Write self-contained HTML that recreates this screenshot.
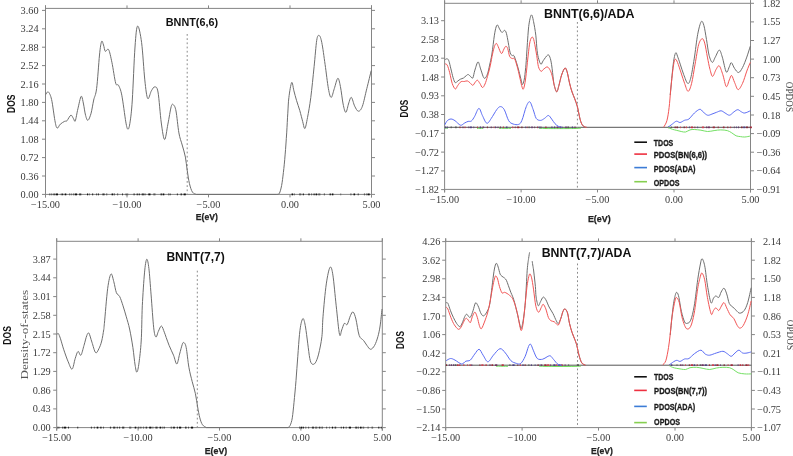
<!DOCTYPE html><html><head><meta charset="utf-8"><style>html,body{margin:0;padding:0;background:#fff;}svg{display:block;will-change:transform;}text{font-family:"Liberation Sans",sans-serif;}</style></head><body>
<svg width="793" height="456" viewBox="0 0 793 456">
<rect width="793" height="456" fill="#fff"/>
<line x1="45.5" y1="5.4" x2="45.5" y2="197.4" stroke="#858585" stroke-width="1"/>
<line x1="371.5" y1="5.4" x2="371.5" y2="197.4" stroke="#858585" stroke-width="1"/>
<line x1="45.5" y1="8.4" x2="371.5" y2="8.4" stroke="#858585" stroke-width="1"/>
<line x1="45.5" y1="194.4" x2="371.5" y2="194.4" stroke="#858585" stroke-width="1"/>
<line x1="45.5" y1="194.4" x2="45.5" y2="197.4" stroke="#858585" stroke-width="1"/>
<line x1="45.5" y1="8.4" x2="45.5" y2="5.4" stroke="#858585" stroke-width="1"/>
<text x="45.5" y="208" font-size="10.3" text-anchor="middle" font-weight="normal" fill="#3a3a3a" style="font-family:'Liberation Serif', serif">−15.00</text>
<line x1="127" y1="194.4" x2="127" y2="197.4" stroke="#858585" stroke-width="1"/>
<line x1="127" y1="8.4" x2="127" y2="5.4" stroke="#858585" stroke-width="1"/>
<text x="127" y="208" font-size="10.3" text-anchor="middle" font-weight="normal" fill="#3a3a3a" style="font-family:'Liberation Serif', serif">−10.00</text>
<line x1="208.5" y1="194.4" x2="208.5" y2="197.4" stroke="#858585" stroke-width="1"/>
<line x1="208.5" y1="8.4" x2="208.5" y2="5.4" stroke="#858585" stroke-width="1"/>
<text x="208.5" y="208" font-size="10.3" text-anchor="middle" font-weight="normal" fill="#3a3a3a" style="font-family:'Liberation Serif', serif">−5.00</text>
<line x1="290" y1="194.4" x2="290" y2="197.4" stroke="#858585" stroke-width="1"/>
<line x1="290" y1="8.4" x2="290" y2="5.4" stroke="#858585" stroke-width="1"/>
<text x="290" y="208" font-size="10.3" text-anchor="middle" font-weight="normal" fill="#3a3a3a" style="font-family:'Liberation Serif', serif">0.00</text>
<line x1="371.5" y1="194.4" x2="371.5" y2="197.4" stroke="#858585" stroke-width="1"/>
<line x1="371.5" y1="8.4" x2="371.5" y2="5.4" stroke="#858585" stroke-width="1"/>
<text x="371.5" y="208" font-size="10.3" text-anchor="middle" font-weight="normal" fill="#3a3a3a" style="font-family:'Liberation Serif', serif">5.00</text>
<line x1="42" y1="194.4" x2="45.5" y2="194.4" stroke="#858585" stroke-width="1"/>
<text x="38.6" y="197.9" font-size="10.3" text-anchor="end" font-weight="normal" fill="#3a3a3a" style="font-family:'Liberation Serif', serif">0.00</text>
<line x1="42" y1="176" x2="45.5" y2="176" stroke="#858585" stroke-width="1"/>
<text x="38.6" y="179.5" font-size="10.3" text-anchor="end" font-weight="normal" fill="#3a3a3a" style="font-family:'Liberation Serif', serif">0.36</text>
<line x1="42" y1="157.6" x2="45.5" y2="157.6" stroke="#858585" stroke-width="1"/>
<text x="38.6" y="161.1" font-size="10.3" text-anchor="end" font-weight="normal" fill="#3a3a3a" style="font-family:'Liberation Serif', serif">0.72</text>
<line x1="42" y1="139.2" x2="45.5" y2="139.2" stroke="#858585" stroke-width="1"/>
<text x="38.6" y="142.7" font-size="10.3" text-anchor="end" font-weight="normal" fill="#3a3a3a" style="font-family:'Liberation Serif', serif">1.08</text>
<line x1="42" y1="120.8" x2="45.5" y2="120.8" stroke="#858585" stroke-width="1"/>
<text x="38.6" y="124.3" font-size="10.3" text-anchor="end" font-weight="normal" fill="#3a3a3a" style="font-family:'Liberation Serif', serif">1.44</text>
<line x1="42" y1="102.4" x2="45.5" y2="102.4" stroke="#858585" stroke-width="1"/>
<text x="38.6" y="105.9" font-size="10.3" text-anchor="end" font-weight="normal" fill="#3a3a3a" style="font-family:'Liberation Serif', serif">1.80</text>
<line x1="42" y1="84" x2="45.5" y2="84" stroke="#858585" stroke-width="1"/>
<text x="38.6" y="87.5" font-size="10.3" text-anchor="end" font-weight="normal" fill="#3a3a3a" style="font-family:'Liberation Serif', serif">2.16</text>
<line x1="42" y1="65.6" x2="45.5" y2="65.6" stroke="#858585" stroke-width="1"/>
<text x="38.6" y="69.1" font-size="10.3" text-anchor="end" font-weight="normal" fill="#3a3a3a" style="font-family:'Liberation Serif', serif">2.52</text>
<line x1="42" y1="47.2" x2="45.5" y2="47.2" stroke="#858585" stroke-width="1"/>
<text x="38.6" y="50.7" font-size="10.3" text-anchor="end" font-weight="normal" fill="#3a3a3a" style="font-family:'Liberation Serif', serif">2.88</text>
<line x1="42" y1="28.8" x2="45.5" y2="28.8" stroke="#858585" stroke-width="1"/>
<text x="38.6" y="32.3" font-size="10.3" text-anchor="end" font-weight="normal" fill="#3a3a3a" style="font-family:'Liberation Serif', serif">3.24</text>
<line x1="42" y1="10.4" x2="45.5" y2="10.4" stroke="#858585" stroke-width="1"/>
<text x="38.6" y="13.9" font-size="10.3" text-anchor="end" font-weight="normal" fill="#3a3a3a" style="font-family:'Liberation Serif', serif">3.60</text>
<line x1="371.5" y1="194.4" x2="375" y2="194.4" stroke="#858585" stroke-width="1"/>
<line x1="371.5" y1="176" x2="375" y2="176" stroke="#858585" stroke-width="1"/>
<line x1="371.5" y1="157.6" x2="375" y2="157.6" stroke="#858585" stroke-width="1"/>
<line x1="371.5" y1="139.2" x2="375" y2="139.2" stroke="#858585" stroke-width="1"/>
<line x1="371.5" y1="120.8" x2="375" y2="120.8" stroke="#858585" stroke-width="1"/>
<line x1="371.5" y1="102.4" x2="375" y2="102.4" stroke="#858585" stroke-width="1"/>
<line x1="371.5" y1="84" x2="375" y2="84" stroke="#858585" stroke-width="1"/>
<line x1="371.5" y1="65.6" x2="375" y2="65.6" stroke="#858585" stroke-width="1"/>
<line x1="371.5" y1="47.2" x2="375" y2="47.2" stroke="#858585" stroke-width="1"/>
<line x1="371.5" y1="28.8" x2="375" y2="28.8" stroke="#858585" stroke-width="1"/>
<line x1="371.5" y1="10.4" x2="375" y2="10.4" stroke="#858585" stroke-width="1"/>
<rect x="49.2" y="193.5" width="0.8" height="1.8" fill="#555"/>
<rect x="50.6" y="193.5" width="1.2" height="1.8" fill="#555"/>
<rect x="52.8" y="193.5" width="0.8" height="1.8" fill="#333"/>
<rect x="54.2" y="193.5" width="1.0" height="1.8" fill="#333"/>
<rect x="55.8" y="193.5" width="2.2" height="1.8" fill="#111"/>
<rect x="60.8" y="193.5" width="0.8" height="1.8" fill="#333"/>
<rect x="62.2" y="193.5" width="1.0" height="1.8" fill="#111"/>
<rect x="64.7" y="193.5" width="1.6" height="1.8" fill="#111"/>
<rect x="69.1" y="193.5" width="1.2" height="1.8" fill="#555"/>
<rect x="71.3" y="193.5" width="0.8" height="1.8" fill="#555"/>
<rect x="73.1" y="193.5" width="1.2" height="1.8" fill="#555"/>
<rect x="74.9" y="193.5" width="2.2" height="1.8" fill="#111"/>
<rect x="79.1" y="193.5" width="2.2" height="1.8" fill="#333"/>
<rect x="87.0" y="193.5" width="1.2" height="1.8" fill="#111"/>
<rect x="89.2" y="193.5" width="0.8" height="1.8" fill="#555"/>
<rect x="92.0" y="193.5" width="1.2" height="1.8" fill="#333"/>
<rect x="96.0" y="193.5" width="0.8" height="1.8" fill="#333"/>
<rect x="97.8" y="193.5" width="1.2" height="1.8" fill="#333"/>
<rect x="102.4" y="193.5" width="2.2" height="1.8" fill="#333"/>
<rect x="106.1" y="193.5" width="1.2" height="1.8" fill="#555"/>
<rect x="111.6" y="193.5" width="1.6" height="1.8" fill="#111"/>
<rect x="113.8" y="193.5" width="1.2" height="1.8" fill="#555"/>
<rect x="117.0" y="193.5" width="1.2" height="1.8" fill="#555"/>
<rect x="122.0" y="193.5" width="1.0" height="1.8" fill="#333"/>
<rect x="125.6" y="193.5" width="1.0" height="1.8" fill="#333"/>
<rect x="127.2" y="193.5" width="1.0" height="1.8" fill="#555"/>
<rect x="133.5" y="193.5" width="1.2" height="1.8" fill="#333"/>
<rect x="136.7" y="193.5" width="1.0" height="1.8" fill="#111"/>
<rect x="138.7" y="193.5" width="1.0" height="1.8" fill="#111"/>
<rect x="141.7" y="193.5" width="2.2" height="1.8" fill="#333"/>
<rect x="144.5" y="193.5" width="1.0" height="1.8" fill="#333"/>
<rect x="148.3" y="193.5" width="2.2" height="1.8" fill="#111"/>
<rect x="153.3" y="193.5" width="2.2" height="1.8" fill="#555"/>
<rect x="160.5" y="193.5" width="1.6" height="1.8" fill="#333"/>
<rect x="162.7" y="193.5" width="1.6" height="1.8" fill="#111"/>
<rect x="168.1" y="193.5" width="1.0" height="1.8" fill="#555"/>
<rect x="169.7" y="193.5" width="0.8" height="1.8" fill="#111"/>
<rect x="176.9" y="193.5" width="0.8" height="1.8" fill="#111"/>
<rect x="180.5" y="193.5" width="1.6" height="1.8" fill="#333"/>
<rect x="183.6" y="193.5" width="2.2" height="1.8" fill="#111"/>
<rect x="291.6" y="193.5" width="1.6" height="1.8" fill="#111"/>
<rect x="294.2" y="193.5" width="0.8" height="1.8" fill="#555"/>
<rect x="299.1" y="193.5" width="2.2" height="1.8" fill="#555"/>
<rect x="302.8" y="193.5" width="1.0" height="1.8" fill="#111"/>
<rect x="308.4" y="193.5" width="1.2" height="1.8" fill="#111"/>
<rect x="311.1" y="193.5" width="1.0" height="1.8" fill="#555"/>
<rect x="313.6" y="193.5" width="1.0" height="1.8" fill="#111"/>
<rect x="315.6" y="193.5" width="1.6" height="1.8" fill="#111"/>
<rect x="318.2" y="193.5" width="2.2" height="1.8" fill="#555"/>
<rect x="323.8" y="193.5" width="1.2" height="1.8" fill="#555"/>
<rect x="329.6" y="193.5" width="1.2" height="1.8" fill="#111"/>
<rect x="331.8" y="193.5" width="1.6" height="1.8" fill="#111"/>
<rect x="340.4" y="193.5" width="0.8" height="1.8" fill="#555"/>
<rect x="350.3" y="193.5" width="1.2" height="1.8" fill="#555"/>
<rect x="353.5" y="193.5" width="1.6" height="1.8" fill="#111"/>
<rect x="357.7" y="193.5" width="1.0" height="1.8" fill="#333"/>
<rect x="363.9" y="193.5" width="1.2" height="1.8" fill="#555"/>
<rect x="366.1" y="193.5" width="0.8" height="1.8" fill="#555"/>
<rect x="367.5" y="193.5" width="2.2" height="1.8" fill="#111"/>
<line x1="187.2" y1="34" x2="187.2" y2="194.4" stroke="#8a8a8a" stroke-width="1" stroke-dasharray="1.8 2.4"/>
<path d="M45.8 94.5 C46.2 94.1 47.3 91.1 48.3 91.9 C49.3 92.8 50.5 94.8 51.6 99.6 C52.7 104.4 54 115.8 54.9 120.5 C55.8 125.2 56.2 127.5 57.1 128.1 C58 128.7 59.1 125.2 60.4 124.1 C61.7 123 63.6 121.8 64.7 121.3 C65.8 120.8 65.9 121.8 66.9 120.8 C67.9 119.8 69.8 115.5 70.9 115.2 C72 114.9 72.8 117.8 73.5 118.7 C74.2 119.6 74.6 122.5 75.3 120.8 C76 119.1 76.9 112.9 77.9 108.8 C78.9 104.7 80.3 97.1 81.2 96.3 C82.1 95.5 82.8 100.8 83.5 104 C84.2 107.2 84.8 112.7 85.6 115.4 C86.3 118.1 87.1 120.7 88 120.3 C88.9 119.9 90.1 116.6 91.1 113.2 C92 109.8 92.8 104.1 93.7 100 C94.6 95.9 95.6 96.1 96.6 88.6 C97.6 81.1 98.7 62.9 99.5 55 C100.3 47.1 100.9 43.2 101.6 41.5 C102.3 39.8 102.9 43.4 103.5 45 C104.1 46.6 104.5 50.5 105.3 51.3 C106.1 52.1 107.5 47.8 108.6 49.6 C109.7 51.4 110.7 56.7 111.9 62.3 C113.1 67.9 114.6 79.4 115.7 83.2 C116.8 87 117.5 83.3 118.5 85.3 C119.5 87.3 120.6 89.1 121.8 95.2 C123 101.3 124.8 116.2 125.8 121.9 C126.8 127.6 127.3 129.2 128 129.2 C128.7 129.2 129.4 126.8 130.1 121.9 C130.8 117 131.5 112.5 132.3 100 C133.1 87.5 134.1 59.3 135 47 C135.9 34.7 136.5 26.8 137.6 26.1 C138.7 25.4 140.4 33.6 141.6 42.6 C142.8 51.6 143.8 70.6 144.8 79.9 C145.8 89.2 146.6 96.7 147.7 98.5 C148.8 100.3 150.2 92.7 151.4 90.8 C152.6 88.9 153.6 86.7 154.7 86.9 C155.8 87.1 156.9 86 158 92 C159.1 98 160.2 115.1 161.3 123 C162.4 130.9 163.5 139.3 164.6 139.5 C165.7 139.7 166.8 129.6 167.9 124.1 C169 118.6 170.3 109.8 171.2 106.6 C172.1 103.4 172.6 104.1 173.4 104.8 C174.2 105.5 175.1 106.3 176 111 C176.9 115.7 177.9 127.2 178.9 132.9 C179.9 138.6 181.1 141 182.2 145 C183.3 149 184.6 152.9 185.4 157.1 C186.2 161.3 186.5 165.8 187.2 170.2 C187.9 174.6 188.5 179.7 189.4 183.4 C190.3 187.1 191.3 190.4 192.5 192.2 C193.7 194 195.8 194 196.4 194.4" fill="none" stroke="#6e6e6e" stroke-width="1" stroke-linejoin="round"/>
<line x1="196.4" y1="194.4" x2="276.8" y2="194.4" stroke="#6e6e6e" stroke-width="1"/>
<path d="M276.8 194.4 C277.2 194.2 278.6 194.8 279.4 193.3 C280.2 191.8 280.9 189.1 281.6 185.6 C282.3 182.1 282.8 177.5 283.4 172.4 C284 167.3 284.6 161.5 285.1 154.9 C285.7 148.3 286.2 139.8 286.7 132.9 C287.1 126 287.4 119.1 287.8 113.2 C288.2 107.3 288.2 102.5 288.9 97.4 C289.5 92.3 290.9 83.6 291.7 82.5 C292.5 81.4 293.1 87.8 293.9 90.8 C294.7 93.8 295.6 97.4 296.6 100.7 C297.6 104 298.8 107.1 299.8 110.6 C300.8 114.1 301.9 118.6 302.7 121.6 C303.5 124.6 304.1 129.2 304.9 128.5 C305.7 127.8 306.5 122.8 307.5 117.6 C308.5 112.4 309.7 105.9 310.8 97.4 C311.9 88.9 313.1 76.2 314.1 66.7 C315.1 57.2 315.9 45.6 316.7 40.4 C317.5 35.2 318.3 35.1 319.2 35.5 C320.1 35.9 320.8 37.8 321.8 42.6 C322.8 47.4 324 56.8 325.1 64.5 C326.2 72.2 327.4 83.1 328.4 88.6 C329.4 94.1 330.2 97.4 331.2 97.4 C332.2 97.4 333.2 91.8 334.3 88.6 C335.4 85.4 336.8 78.7 337.8 78.3 C338.8 77.9 339.5 82.1 340.4 86.4 C341.3 90.7 342.2 99.7 343.1 104 C344 108.3 344.9 112.5 345.9 112.3 C346.8 112.1 347.9 105.4 348.8 102.9 C349.7 100.4 350.4 96.9 351.4 97.4 C352.4 98 353.5 103.9 354.7 106.2 C355.9 108.5 357.1 111.2 358.4 111.2 C359.7 111.2 361 110 362.4 106.2 C363.8 102.4 365.3 94.5 366.8 88.6 C368.3 82.7 370.5 73.6 371.2 70.6" fill="none" stroke="#6e6e6e" stroke-width="1" stroke-linejoin="round"/>
<text x="165.8" y="25.8" font-size="10.8" text-anchor="start" font-weight="bold" fill="#111" textLength="52.3" lengthAdjust="spacingAndGlyphs">BNNT(6,6)</text>
<text x="195.8" y="219.6" font-size="9" text-anchor="start" font-weight="bold" fill="#222" textLength="22" lengthAdjust="spacingAndGlyphs" stroke="#222" stroke-width="0.25">E(eV)</text>
<text x="0" y="0" font-size="10.5" text-anchor="middle" font-weight="bold" fill="#111" textLength="18.4" lengthAdjust="spacingAndGlyphs" transform="translate(15,103.7) rotate(-90)">DOS</text>
<line x1="444.6" y1="0.3" x2="444.6" y2="192.4" stroke="#858585" stroke-width="1"/>
<line x1="750.5" y1="0.3" x2="750.5" y2="192.4" stroke="#858585" stroke-width="1"/>
<line x1="444.6" y1="3.3" x2="750.5" y2="3.3" stroke="#858585" stroke-width="1"/>
<line x1="444.6" y1="189.4" x2="750.5" y2="189.4" stroke="#858585" stroke-width="1"/>
<line x1="444.6" y1="189.4" x2="444.6" y2="192.4" stroke="#858585" stroke-width="1"/>
<line x1="444.6" y1="3.3" x2="444.6" y2="0.3" stroke="#858585" stroke-width="1"/>
<text x="444.6" y="202.8" font-size="10.3" text-anchor="middle" font-weight="normal" fill="#3a3a3a" style="font-family:'Liberation Serif', serif">−15.00</text>
<line x1="521.1" y1="189.4" x2="521.1" y2="192.4" stroke="#858585" stroke-width="1"/>
<line x1="521.1" y1="3.3" x2="521.1" y2="0.3" stroke="#858585" stroke-width="1"/>
<text x="521.1" y="202.8" font-size="10.3" text-anchor="middle" font-weight="normal" fill="#3a3a3a" style="font-family:'Liberation Serif', serif">−10.00</text>
<line x1="597.5" y1="189.4" x2="597.5" y2="192.4" stroke="#858585" stroke-width="1"/>
<line x1="597.5" y1="3.3" x2="597.5" y2="0.3" stroke="#858585" stroke-width="1"/>
<text x="597.5" y="202.8" font-size="10.3" text-anchor="middle" font-weight="normal" fill="#3a3a3a" style="font-family:'Liberation Serif', serif">−5.00</text>
<line x1="674" y1="189.4" x2="674" y2="192.4" stroke="#858585" stroke-width="1"/>
<line x1="674" y1="3.3" x2="674" y2="0.3" stroke="#858585" stroke-width="1"/>
<text x="674" y="202.8" font-size="10.3" text-anchor="middle" font-weight="normal" fill="#3a3a3a" style="font-family:'Liberation Serif', serif">0.00</text>
<line x1="750.5" y1="189.4" x2="750.5" y2="192.4" stroke="#858585" stroke-width="1"/>
<line x1="750.5" y1="3.3" x2="750.5" y2="0.3" stroke="#858585" stroke-width="1"/>
<text x="750.5" y="202.8" font-size="10.3" text-anchor="middle" font-weight="normal" fill="#3a3a3a" style="font-family:'Liberation Serif', serif">5.00</text>
<line x1="441.1" y1="20.7" x2="444.6" y2="20.7" stroke="#858585" stroke-width="1"/>
<text x="439" y="24.2" font-size="10.3" text-anchor="end" font-weight="normal" fill="#3a3a3a" style="font-family:'Liberation Serif', serif">3.13</text>
<line x1="441.1" y1="39.5" x2="444.6" y2="39.5" stroke="#858585" stroke-width="1"/>
<text x="439" y="43" font-size="10.3" text-anchor="end" font-weight="normal" fill="#3a3a3a" style="font-family:'Liberation Serif', serif">2.58</text>
<line x1="441.1" y1="58.2" x2="444.6" y2="58.2" stroke="#858585" stroke-width="1"/>
<text x="439" y="61.7" font-size="10.3" text-anchor="end" font-weight="normal" fill="#3a3a3a" style="font-family:'Liberation Serif', serif">2.03</text>
<line x1="441.1" y1="77" x2="444.6" y2="77" stroke="#858585" stroke-width="1"/>
<text x="439" y="80.5" font-size="10.3" text-anchor="end" font-weight="normal" fill="#3a3a3a" style="font-family:'Liberation Serif', serif">1.48</text>
<line x1="441.1" y1="95.8" x2="444.6" y2="95.8" stroke="#858585" stroke-width="1"/>
<text x="439" y="99.3" font-size="10.3" text-anchor="end" font-weight="normal" fill="#3a3a3a" style="font-family:'Liberation Serif', serif">0.93</text>
<line x1="441.1" y1="114.5" x2="444.6" y2="114.5" stroke="#858585" stroke-width="1"/>
<text x="439" y="118" font-size="10.3" text-anchor="end" font-weight="normal" fill="#3a3a3a" style="font-family:'Liberation Serif', serif">0.38</text>
<line x1="441.1" y1="133.3" x2="444.6" y2="133.3" stroke="#858585" stroke-width="1"/>
<text x="439" y="136.8" font-size="10.3" text-anchor="end" font-weight="normal" fill="#3a3a3a" style="font-family:'Liberation Serif', serif">−0.17</text>
<line x1="441.1" y1="152.1" x2="444.6" y2="152.1" stroke="#858585" stroke-width="1"/>
<text x="439" y="155.6" font-size="10.3" text-anchor="end" font-weight="normal" fill="#3a3a3a" style="font-family:'Liberation Serif', serif">−0.72</text>
<line x1="441.1" y1="170.9" x2="444.6" y2="170.9" stroke="#858585" stroke-width="1"/>
<text x="439" y="174.4" font-size="10.3" text-anchor="end" font-weight="normal" fill="#3a3a3a" style="font-family:'Liberation Serif', serif">−1.27</text>
<line x1="441.1" y1="189.6" x2="444.6" y2="189.6" stroke="#858585" stroke-width="1"/>
<text x="439" y="193.1" font-size="10.3" text-anchor="end" font-weight="normal" fill="#3a3a3a" style="font-family:'Liberation Serif', serif">−1.82</text>
<line x1="750.5" y1="3.3" x2="754" y2="3.3" stroke="#858585" stroke-width="1"/>
<text x="780.5" y="6.8" font-size="10.3" text-anchor="end" font-weight="normal" fill="#3a3a3a" style="font-family:'Liberation Serif', serif">1.82</text>
<line x1="750.5" y1="21.9" x2="754" y2="21.9" stroke="#858585" stroke-width="1"/>
<text x="780.5" y="25.4" font-size="10.3" text-anchor="end" font-weight="normal" fill="#3a3a3a" style="font-family:'Liberation Serif', serif">1.55</text>
<line x1="750.5" y1="40.5" x2="754" y2="40.5" stroke="#858585" stroke-width="1"/>
<text x="780.5" y="44" font-size="10.3" text-anchor="end" font-weight="normal" fill="#3a3a3a" style="font-family:'Liberation Serif', serif">1.27</text>
<line x1="750.5" y1="59.1" x2="754" y2="59.1" stroke="#858585" stroke-width="1"/>
<text x="780.5" y="62.6" font-size="10.3" text-anchor="end" font-weight="normal" fill="#3a3a3a" style="font-family:'Liberation Serif', serif">1.00</text>
<line x1="750.5" y1="77.7" x2="754" y2="77.7" stroke="#858585" stroke-width="1"/>
<text x="780.5" y="81.2" font-size="10.3" text-anchor="end" font-weight="normal" fill="#3a3a3a" style="font-family:'Liberation Serif', serif">0.73</text>
<line x1="750.5" y1="96.3" x2="754" y2="96.3" stroke="#858585" stroke-width="1"/>
<text x="780.5" y="99.8" font-size="10.3" text-anchor="end" font-weight="normal" fill="#3a3a3a" style="font-family:'Liberation Serif', serif">0.45</text>
<line x1="750.5" y1="115" x2="754" y2="115" stroke="#858585" stroke-width="1"/>
<text x="780.5" y="118.5" font-size="10.3" text-anchor="end" font-weight="normal" fill="#3a3a3a" style="font-family:'Liberation Serif', serif">0.18</text>
<line x1="750.5" y1="133.6" x2="754" y2="133.6" stroke="#858585" stroke-width="1"/>
<text x="780.5" y="137.1" font-size="10.3" text-anchor="end" font-weight="normal" fill="#3a3a3a" style="font-family:'Liberation Serif', serif">−0.09</text>
<line x1="750.5" y1="152.2" x2="754" y2="152.2" stroke="#858585" stroke-width="1"/>
<text x="780.5" y="155.7" font-size="10.3" text-anchor="end" font-weight="normal" fill="#3a3a3a" style="font-family:'Liberation Serif', serif">−0.36</text>
<line x1="750.5" y1="170.8" x2="754" y2="170.8" stroke="#858585" stroke-width="1"/>
<text x="780.5" y="174.3" font-size="10.3" text-anchor="end" font-weight="normal" fill="#3a3a3a" style="font-family:'Liberation Serif', serif">−0.64</text>
<line x1="750.5" y1="189.4" x2="754" y2="189.4" stroke="#858585" stroke-width="1"/>
<text x="780.5" y="192.9" font-size="10.3" text-anchor="end" font-weight="normal" fill="#3a3a3a" style="font-family:'Liberation Serif', serif">−0.91</text>
<line x1="444.6" y1="127.3" x2="750.5" y2="127.3" stroke="#555" stroke-width="1"/>
<line x1="577.4" y1="22" x2="577.4" y2="189.4" stroke="#8a8a8a" stroke-width="1" stroke-dasharray="1.8 2.4"/>
<path d="M539 128.3 C540 128.3 541.5 128.4 545 128.5 C548.5 128.6 555 128.6 560 128.6 C565 128.6 571.5 128.6 575 128.5 C578.5 128.4 580 128.2 581 128.2" fill="none" stroke="#74e064" stroke-width="1" stroke-linejoin="round"/>
<path d="M444.8 128.2 C445.3 128.2 447.5 128.3 448 128.3" fill="none" stroke="#74e064" stroke-width="1" stroke-linejoin="round"/>
<path d="M477 128.3 C478 128.3 482 128.4 483 128.4" fill="none" stroke="#74e064" stroke-width="1" stroke-linejoin="round"/>
<path d="M499 128.3 C501 128.3 509 128.4 511 128.4" fill="none" stroke="#74e064" stroke-width="1" stroke-linejoin="round"/>
<rect x="445.0" y="126.5" width="1.0" height="1.7" fill="#504080"/>
<rect x="446.6" y="126.5" width="1.2" height="1.7" fill="#504080"/>
<rect x="450.6" y="126.5" width="1.2" height="1.7" fill="#555"/>
<rect x="455.1" y="126.5" width="1.6" height="1.7" fill="#555"/>
<rect x="459.5" y="126.5" width="1.0" height="1.7" fill="#a02838"/>
<rect x="462.5" y="126.5" width="1.0" height="1.7" fill="#703060"/>
<rect x="464.5" y="126.5" width="1.0" height="1.7" fill="#c03040"/>
<rect x="468.3" y="126.5" width="0.8" height="1.7" fill="#6a3a70"/>
<rect x="469.7" y="126.5" width="2.2" height="1.7" fill="#504080"/>
<rect x="473.4" y="126.5" width="0.8" height="1.7" fill="#6a3a70"/>
<rect x="477.0" y="126.5" width="0.8" height="1.7" fill="#c03040"/>
<rect x="479.8" y="126.5" width="1.2" height="1.7" fill="#504080"/>
<rect x="482.5" y="126.5" width="1.6" height="1.7" fill="#6a3a70"/>
<rect x="486.9" y="126.5" width="1.0" height="1.7" fill="#802838"/>
<rect x="490.7" y="126.5" width="1.0" height="1.7" fill="#703060"/>
<rect x="493.7" y="126.5" width="0.8" height="1.7" fill="#d04050"/>
<rect x="495.1" y="126.5" width="1.0" height="1.7" fill="#504080"/>
<rect x="497.6" y="126.5" width="0.8" height="1.7" fill="#703060"/>
<rect x="499.9" y="126.5" width="1.0" height="1.7" fill="#703060"/>
<rect x="502.9" y="126.5" width="1.0" height="1.7" fill="#c03040"/>
<rect x="505.9" y="126.5" width="1.6" height="1.7" fill="#504080"/>
<rect x="512.1" y="126.5" width="1.2" height="1.7" fill="#d04050"/>
<rect x="514.8" y="126.5" width="0.8" height="1.7" fill="#a02838"/>
<rect x="517.1" y="126.5" width="2.2" height="1.7" fill="#a02838"/>
<rect x="521.3" y="126.5" width="1.2" height="1.7" fill="#802838"/>
<rect x="525.3" y="126.5" width="0.8" height="1.7" fill="#504080"/>
<rect x="526.7" y="126.5" width="0.8" height="1.7" fill="#a02838"/>
<rect x="528.5" y="126.5" width="1.2" height="1.7" fill="#555"/>
<rect x="531.2" y="126.5" width="1.6" height="1.7" fill="#6a3a70"/>
<rect x="534.3" y="126.5" width="0.8" height="1.7" fill="#703060"/>
<rect x="537.1" y="126.5" width="0.8" height="1.7" fill="#a02838"/>
<rect x="538.5" y="126.5" width="1.2" height="1.7" fill="#504080"/>
<rect x="540.3" y="126.5" width="1.2" height="1.7" fill="#6a3a70"/>
<rect x="545.3" y="126.5" width="1.2" height="1.7" fill="#a02838"/>
<rect x="551.3" y="126.5" width="1.2" height="1.7" fill="#504080"/>
<rect x="554.0" y="126.5" width="1.2" height="1.7" fill="#504080"/>
<rect x="556.7" y="126.5" width="1.6" height="1.7" fill="#703060"/>
<rect x="559.8" y="126.5" width="1.2" height="1.7" fill="#802838"/>
<rect x="561.6" y="126.5" width="0.8" height="1.7" fill="#504080"/>
<rect x="565.2" y="126.5" width="1.6" height="1.7" fill="#6a3a70"/>
<rect x="567.4" y="126.5" width="1.6" height="1.7" fill="#555"/>
<rect x="571.8" y="126.5" width="1.2" height="1.7" fill="#504080"/>
<rect x="574.5" y="126.5" width="1.0" height="1.7" fill="#703060"/>
<rect x="668.0" y="126.5" width="0.8" height="1.7" fill="#802838"/>
<rect x="670.8" y="126.5" width="1.0" height="1.7" fill="#555"/>
<rect x="674.6" y="126.5" width="1.2" height="1.7" fill="#802838"/>
<rect x="676.4" y="126.5" width="1.6" height="1.7" fill="#802838"/>
<rect x="680.0" y="126.5" width="0.8" height="1.7" fill="#d04050"/>
<rect x="683.6" y="126.5" width="1.2" height="1.7" fill="#802838"/>
<rect x="685.8" y="126.5" width="1.2" height="1.7" fill="#d04050"/>
<rect x="689.0" y="126.5" width="0.8" height="1.7" fill="#504080"/>
<rect x="690.8" y="126.5" width="2.2" height="1.7" fill="#c03040"/>
<rect x="694.5" y="126.5" width="0.8" height="1.7" fill="#a02838"/>
<rect x="697.3" y="126.5" width="0.8" height="1.7" fill="#504080"/>
<rect x="701.9" y="126.5" width="2.2" height="1.7" fill="#d04050"/>
<rect x="706.1" y="126.5" width="1.0" height="1.7" fill="#703060"/>
<rect x="707.7" y="126.5" width="2.2" height="1.7" fill="#703060"/>
<rect x="712.7" y="126.5" width="2.2" height="1.7" fill="#a02838"/>
<rect x="717.7" y="126.5" width="1.0" height="1.7" fill="#a02838"/>
<rect x="722.9" y="126.5" width="1.6" height="1.7" fill="#a02838"/>
<rect x="727.3" y="126.5" width="1.0" height="1.7" fill="#a02838"/>
<rect x="730.3" y="126.5" width="0.8" height="1.7" fill="#c03040"/>
<rect x="733.9" y="126.5" width="0.8" height="1.7" fill="#6a3a70"/>
<rect x="736.2" y="126.5" width="0.8" height="1.7" fill="#504080"/>
<rect x="738.0" y="126.5" width="1.0" height="1.7" fill="#6a3a70"/>
<rect x="741.0" y="126.5" width="1.6" height="1.7" fill="#802838"/>
<rect x="743.2" y="126.5" width="2.2" height="1.7" fill="#504080"/>
<rect x="746.0" y="126.5" width="2.2" height="1.7" fill="#802838"/>
<rect x="749.7" y="126.5" width="2.2" height="1.7" fill="#a02838"/>
<path d="M444.8 124.8 C445.2 124.1 446.3 121.7 447.3 120.7 C448.3 119.7 449.7 119 451 119 C452.3 119 453.4 119.7 455 120.7 C456.6 121.7 458.9 124.8 460.5 125.2 C462.1 125.6 463.5 123.5 464.8 122.9 C466.1 122.3 467 121.7 468.1 121.4 C469.2 121.1 470.3 121.8 471.4 121 C472.5 120.2 473.4 118.4 474.7 116.3 C475.9 114.2 477.6 108.5 478.9 108.4 C480.2 108.3 481.1 113 482.4 115.5 C483.7 118 485.3 122.7 486.8 123.2 C488.3 123.7 489.6 120.8 491.2 118.5 C492.8 116.2 495.2 111.7 496.7 109.7 C498.2 107.7 499.1 106.6 500.4 106.6 C501.7 106.6 502.9 107.3 504.3 109.7 C505.7 112.1 507.2 118.3 508.7 120.7 C510.2 123.1 511.5 123.4 513.1 124 C514.8 124.6 517.1 125 518.6 124.4 C520.1 123.8 520.6 123.4 521.9 120.4 C523.2 117.4 525 109.6 526.3 106.5 C527.6 103.4 528.6 101.3 529.8 101.8 C530.9 102.3 532.1 106.9 533.2 109.7 C534.3 112.5 535 116.6 536.2 118.4 C537.4 120.2 539.1 120.4 540.5 120.4 C541.9 120.4 543.2 119.2 544.5 118.4 C545.8 117.6 547.2 115.4 548.4 115.5 C549.6 115.6 550.6 117.7 551.7 119.1 C552.8 120.5 553.9 122.5 555 123.7 C556.1 124.9 557.2 125.7 558.3 126.3 C559.4 126.9 561 127 561.6 127.2" fill="none" stroke="#5a6cf4" stroke-width="1" stroke-linejoin="round"/>
<path d="M668 127.3 C668.7 126.8 671 125 672.4 124 C673.8 123 675.1 121.5 676.4 121.2 C677.7 121 678.8 122.7 680.1 122.5 C681.5 122.3 683 120.9 684.5 120.3 C686 119.7 687.2 120.2 688.9 119 C690.5 117.8 692.6 114.6 694.4 113 C696.2 111.4 698.3 109.5 699.8 109.3 C701.2 109.1 701.8 110.9 703.1 111.9 C704.4 112.9 706 114.8 707.5 115.2 C709 115.6 710.4 114.6 711.9 114.1 C713.4 113.6 714.8 113 716.3 112.4 C717.8 111.9 719.6 110.7 721.1 110.8 C722.6 110.9 723.7 112.3 725.1 113 C726.5 113.7 728 115.4 729.5 115.2 C731 115 732.5 112.8 733.9 111.9 C735.3 111 736.5 109.7 737.8 109.7 C739.1 109.7 740.3 111.4 741.5 111.9 C742.7 112.5 743.3 113.2 744.8 113 C746.3 112.8 749.4 111.2 750.3 110.8" fill="none" stroke="#5a6cf4" stroke-width="1" stroke-linejoin="round"/>
<path d="M668 127.5 C668.7 127.8 670.9 128.8 672.4 129.3 C673.9 129.8 675.3 130 676.8 130.4 C678.3 130.8 679.7 131.2 681.2 131.5 C682.7 131.8 684.1 132.3 685.6 132 C687.1 131.7 688.5 130.3 690 129.9 C691.5 129.5 692.6 129.4 694.4 129.5 C696.2 129.6 698.7 129.9 700.9 130.2 C703.1 130.5 705.3 131.4 707.5 131.5 C709.7 131.6 711.9 130.9 714.1 130.6 C716.3 130.3 718.5 129.9 720.7 129.9 C722.9 129.9 725.5 130.1 727.3 130.6 C729.1 131.1 730.2 131.9 731.7 132.8 C733.2 133.7 734.7 135.2 736.1 135.8 C737.5 136.4 739 136.4 740.4 136.6 C741.8 136.8 743.1 137.1 744.8 137 C746.4 136.9 749.4 136.2 750.3 136.1" fill="none" stroke="#74e064" stroke-width="1" stroke-linejoin="round"/>
<path d="M445 59.6 C445.4 59.5 446.6 58.5 447.3 58.8 C448 59.1 448.4 59.6 449 61.3 C449.6 63 450.2 66.2 450.9 68.9 C451.6 71.6 452.4 75.4 453.1 77.7 C453.8 80 454.5 82.2 455.3 82.7 C456.1 83.2 457 81.5 457.9 80.9 C458.8 80.3 459.5 79.7 460.4 79.2 C461.3 78.7 462.6 78.6 463.5 78 C464.4 77.4 465.3 76.4 466.1 75.8 C466.9 75.2 467.5 74.4 468.2 74.5 C468.9 74.6 469.7 75.8 470.5 76.4 C471.3 77 472.1 79 472.8 78 C473.5 77 474 72.8 474.9 70.1 C475.8 67.4 477.1 62.1 478 61.9 C478.9 61.7 479.8 66.5 480.6 68.9 C481.5 71.3 482.4 74.8 483.1 76.4 C483.8 78 484.3 78.7 485 78.3 C485.7 77.9 486.7 76.1 487.5 73.9 C488.3 71.7 488.9 68.4 489.6 65.1 C490.3 61.8 491.1 59.1 491.9 54.1 C492.7 49.1 493.7 39.7 494.4 35.2 C495.1 30.7 495.6 28.7 496.1 27 C496.6 25.3 497 24.8 497.6 25.1 C498.2 25.4 498.8 27.7 499.5 28.9 C500.2 30.1 501.2 32 501.8 32.4 C502.4 32.8 502.8 31.7 503.3 31.4 C503.8 31.1 504.3 30.1 504.8 30.4 C505.3 30.7 505.8 31.2 506.4 33.3 C507 35.4 507.7 39.5 508.3 42.8 C508.9 46.1 509.6 50.8 510.2 52.9 C510.8 55 511.5 55 512.1 55.5 C512.7 56 513.3 54.6 514 55.8 C514.7 57 515.7 60 516.5 62.6 C517.3 65.2 518.2 68.5 519 71.4 C519.8 74.3 520.6 78 521.2 80.2 C521.8 82.4 521.9 84.6 522.4 84.6 C522.9 84.6 523.5 83 524.1 80.2 C524.7 77.4 525.2 72.3 525.7 67.6 C526.2 62.9 526.3 58.9 526.8 52 C527.3 45.1 528 32.6 528.7 26.4 C529.5 20.2 530.5 15.8 531.3 15 C532.1 14.2 532.8 17.9 533.5 21.3 C534.2 24.7 535.2 30.3 535.8 35.2 C536.4 40.1 536.6 46.6 537.1 50.6 C537.6 54.6 538.1 57.1 538.8 59.4 C539.4 61.7 540.3 64.1 541 64.3 C541.7 64.5 542.1 62.2 543.2 60.7 C544.3 59.2 546.6 55.6 547.7 55 C548.8 54.4 549.2 55.6 549.9 57.2 C550.5 58.8 551 60.9 551.6 64.7 C552.2 68.5 553 76.5 553.4 80 C553.8 83.5 553.8 83.5 554.3 85.5 C554.8 87.5 555.9 91.8 556.7 91.8 C557.5 91.8 558.1 88.3 558.9 85.5 C559.7 82.7 560.6 77.9 561.6 75 C562.6 72.1 564 68.6 564.9 68.1 C565.8 67.6 566.3 69.3 567.1 71.8 C567.9 74.3 568.7 79.5 569.5 82.9 C570.3 86.3 571.2 89.5 572.1 92.1 C573 94.7 573.8 96.3 574.7 98.7 C575.6 101.1 576.6 103.8 577.4 106.6 C578.2 109.4 578.6 113.1 579.3 115.8 C579.9 118.5 580.5 121.2 581.3 123 C582.1 124.8 583 125.9 583.9 126.6 C584.8 127.3 586.1 127.2 586.6 127.3" fill="none" stroke="#6e6e6e" stroke-width="1" stroke-linejoin="round"/>
<path d="M445 63.8 C445.4 64 446.4 63.6 447.2 65.1 C448 66.6 448.9 69.7 449.7 72.7 C450.5 75.8 451.3 80.7 452.2 83.4 C453.1 86.1 454.4 88.7 455.3 89 C456.2 89.3 456.9 86.5 457.9 85.3 C458.8 84.1 459.9 82.3 461 81.7 C462.1 81.1 463.1 81.6 464.2 81.5 C465.2 81.4 466.4 80.7 467.3 80.9 C468.2 81.1 469 82 469.9 82.7 C470.8 83.4 471.9 85.4 472.8 85.3 C473.7 85.2 474.5 82.9 475.3 82.1 C476.1 81.2 476.6 80 477.4 80.2 C478.2 80.4 479 82.2 479.9 83.4 C480.8 84.6 481.6 87.4 482.5 87.5 C483.4 87.6 484.2 85.8 485 84 C485.8 82.2 486.6 79.6 487.5 76.4 C488.4 73.2 489.6 68.8 490.4 65.1 C491.2 61.4 491.8 57.2 492.5 54.1 C493.2 51 493.8 48.4 494.4 46.6 C495 44.8 495.7 43.4 496.3 43.4 C496.9 43.4 497.4 44.9 498.2 46.6 C499 48.3 500.4 53.1 501.4 53.5 C502.3 53.9 503.2 50.3 503.9 49.1 C504.6 47.9 505.2 46.4 505.8 46.3 C506.4 46.2 507.1 46.8 507.7 48.5 C508.3 50.2 508.9 54.6 509.6 56.3 C510.3 58 511.3 58.1 512.1 58.5 C512.9 58.9 513.8 57.5 514.6 58.8 C515.4 60.1 516.2 63.2 517.1 66.3 C518 69.3 519 73.9 519.7 77.1 C520.5 80.3 521 83.3 521.6 85.3 C522.2 87.3 522.6 89.7 523.2 89.3 C523.8 88.9 524.4 85.9 525 82.7 C525.6 79.5 526.1 74.7 526.6 70.1 C527.1 65.5 527.6 59.8 528.2 55 C528.8 50.2 529.3 44.5 530 41.5 C530.7 38.5 531.6 37.1 532.3 37.1 C533 37.1 533.5 38.5 534.2 41.5 C534.9 44.5 536 51.2 536.7 55.4 C537.4 59.6 537.7 63.9 538.4 66.5 C539.1 69.2 540.2 70.8 541 71.3 C541.8 71.8 542.2 70.3 543.2 69.6 C544.2 68.9 546 66.8 547.2 66.9 C548.4 67.1 549.4 68.8 550.3 70.5 C551.2 72.2 551.8 74.6 552.5 77.1 C553.2 79.6 553.6 83 554.3 85.5 C555 88 555.9 91.8 556.7 91.8 C557.5 91.8 558.1 88.3 558.9 85.5 C559.7 82.7 560.6 77.9 561.6 75 C562.6 72.1 564 68.6 564.9 68.1 C565.8 67.6 566.3 69.3 567.1 71.8 C567.9 74.3 568.7 79.5 569.5 82.9 C570.3 86.3 571.2 89.5 572.1 92.1 C573 94.7 573.8 96.3 574.7 98.7 C575.6 101.1 576.6 103.8 577.4 106.6 C578.2 109.4 578.6 113.1 579.3 115.8 C579.9 118.5 580.5 121.2 581.3 123 C582.1 124.8 583 125.9 583.9 126.6 C584.8 127.3 586.1 127.2 586.6 127.3" fill="none" stroke="#f25454" stroke-width="1" stroke-linejoin="round"/>
<path d="M670.2 95 C670.6 91.3 671.7 78.9 672.3 72.9 C672.9 66.9 673.4 62.3 674 58.9 C674.6 55.5 675.2 53.2 675.8 52.7 C676.4 52.2 676.8 54.3 677.5 56.2 C678.2 58.1 679.2 61 680.2 64.1 C681.2 67.2 682.5 71.4 683.7 74.6 C685 77.8 686.5 82.8 687.7 83.4 C688.9 84 689.6 82.3 690.7 78.2 C691.8 74.1 693 66.2 694.2 58.9 C695.4 51.6 696.5 40.5 697.7 34.3 C698.9 28.1 700.2 23.2 701.2 21.7 C702.2 20.2 703 22.5 703.9 25.5 C704.8 28.5 705.6 34.6 706.5 39.6 C707.4 44.6 708.1 51.6 709.1 55.4 C710.1 59.2 711.3 62.1 712.3 62.4 C713.3 62.7 714.1 59.1 715.3 57.1 C716.5 55.1 718.1 50.1 719.3 50.1 C720.5 50.1 721.1 53.5 722.3 57.1 C723.5 60.8 725.1 70.4 726.3 72 C727.5 73.6 728.4 68.3 729.3 66.8 C730.1 65.2 730.5 62.4 731.4 62.7 C732.3 63 733.4 66.9 734.6 68.5 C735.8 70.1 737.3 72.7 738.6 72.5 C739.9 72.3 741.1 70.2 742.5 67.6 C743.9 65 745.5 60.7 746.8 57.1 C748.1 53.5 749.7 48 750.3 46.2" fill="none" stroke="#6e6e6e" stroke-width="1" stroke-linejoin="round"/>
<path d="M663.6 127.3 C664.1 126.2 666 124 666.9 120.7 C667.8 117.4 668.5 112.7 669.1 107.6 C669.7 102.5 670.2 95.5 670.7 90 C671.2 84.5 671.8 79.2 672.3 74.6 C672.8 70 673.5 65 674 62.4 C674.5 59.8 674.8 59.2 675.4 59.2 C676 59.2 676.5 60.1 677.5 62.4 C678.5 64.7 679.9 69.4 681.1 72.9 C682.3 76.4 683.4 80.3 684.6 83.4 C685.8 86.5 686.9 91.3 688.1 91.3 C689.3 91.3 690.4 87.9 691.6 83.4 C692.8 78.9 693.9 70.5 695.1 64.1 C696.3 57.7 697.4 49 698.6 44.8 C699.8 40.6 701.1 39 702.1 38.7 C703.1 38.4 703.8 40 704.7 43.1 C705.6 46.2 706.5 52.7 707.4 57.1 C708.3 61.5 709.1 66.2 710 69.4 C710.9 72.6 711.6 76.4 712.6 76.4 C713.6 76.4 715 71.2 716.1 69.4 C717.2 67.7 718.2 65 719.3 65.9 C720.4 66.8 721.6 71.1 722.8 74.6 C724 78 725.2 85.7 726.3 86.6 C727.4 87.5 728.4 81.8 729.3 79.9 C730.2 78.1 730.7 75.1 731.6 75.5 C732.5 75.9 733.5 80.2 734.6 82.5 C735.7 84.8 736.8 89.4 738.1 89.6 C739.4 89.8 741 86.5 742.5 83.4 C744 80.3 745.5 74.6 746.8 71.1 C748.1 67.6 749.7 63.8 750.3 62.4" fill="none" stroke="#f25454" stroke-width="1" stroke-linejoin="round"/>
<text x="544" y="18" font-size="12" text-anchor="start" font-weight="bold" fill="#111" textLength="90.6" lengthAdjust="spacingAndGlyphs">BNNT(6,6)/ADA</text>
<text x="587.9" y="222.1" font-size="9.5" text-anchor="start" font-weight="bold" fill="#222" textLength="22.8" lengthAdjust="spacingAndGlyphs" stroke="#222" stroke-width="0.25">E(eV)</text>
<text x="0" y="0" font-size="10.5" text-anchor="middle" font-weight="bold" fill="#111" textLength="17.8" lengthAdjust="spacingAndGlyphs" transform="translate(407.5,108.6) rotate(-90)">DOS</text>
<text x="0" y="0" font-size="10.5" text-anchor="middle" font-weight="normal" fill="#444" textLength="30.3" lengthAdjust="spacingAndGlyphs" style="font-family:'Liberation Serif', serif" transform="translate(786.2,96.9) rotate(90)">OPDOS</text>
<line x1="634.3" y1="142.2" x2="647" y2="142.2" stroke="#111" stroke-width="1.6"/>
<text x="653.8" y="146.3" font-size="8.6" text-anchor="start" font-weight="bold" fill="#1a1a1a" textLength="19.5" lengthAdjust="spacingAndGlyphs" stroke="#1a1a1a" stroke-width="0.3">TDOS</text>
<line x1="634.3" y1="154.1" x2="647" y2="154.1" stroke="#ee3040" stroke-width="1.6"/>
<text x="653.8" y="158" font-size="8.6" text-anchor="start" font-weight="bold" fill="#1a1a1a" textLength="53.3" lengthAdjust="spacingAndGlyphs" stroke="#1a1a1a" stroke-width="0.3">PDOS(BN(6,6))</text>
<line x1="634.3" y1="167.6" x2="647" y2="167.6" stroke="#3c7cd6" stroke-width="1.6"/>
<text x="653.8" y="171.7" font-size="8.6" text-anchor="start" font-weight="bold" fill="#1a1a1a" textLength="41.7" lengthAdjust="spacingAndGlyphs" stroke="#1a1a1a" stroke-width="0.3">PDOS(ADA)</text>
<line x1="634.3" y1="181.7" x2="647" y2="181.7" stroke="#86cf50" stroke-width="1.6"/>
<text x="653.8" y="185.8" font-size="8.6" text-anchor="start" font-weight="bold" fill="#1a1a1a" textLength="25.7" lengthAdjust="spacingAndGlyphs" stroke="#1a1a1a" stroke-width="0.3">OPDOS</text>
<line x1="56.7" y1="238.3" x2="56.7" y2="430.6" stroke="#858585" stroke-width="1"/>
<line x1="382.3" y1="238.3" x2="382.3" y2="430.6" stroke="#858585" stroke-width="1"/>
<line x1="56.7" y1="241.3" x2="382.3" y2="241.3" stroke="#858585" stroke-width="1"/>
<line x1="56.7" y1="427.6" x2="382.3" y2="427.6" stroke="#858585" stroke-width="1"/>
<line x1="56.7" y1="427.6" x2="56.7" y2="430.6" stroke="#858585" stroke-width="1"/>
<line x1="56.7" y1="241.3" x2="56.7" y2="238.3" stroke="#858585" stroke-width="1"/>
<text x="56.7" y="440.9" font-size="10.3" text-anchor="middle" font-weight="normal" fill="#3a3a3a" style="font-family:'Liberation Serif', serif">−15.00</text>
<line x1="138.1" y1="427.6" x2="138.1" y2="430.6" stroke="#858585" stroke-width="1"/>
<line x1="138.1" y1="241.3" x2="138.1" y2="238.3" stroke="#858585" stroke-width="1"/>
<text x="138.1" y="440.9" font-size="10.3" text-anchor="middle" font-weight="normal" fill="#3a3a3a" style="font-family:'Liberation Serif', serif">−10.00</text>
<line x1="219.5" y1="427.6" x2="219.5" y2="430.6" stroke="#858585" stroke-width="1"/>
<line x1="219.5" y1="241.3" x2="219.5" y2="238.3" stroke="#858585" stroke-width="1"/>
<text x="219.5" y="440.9" font-size="10.3" text-anchor="middle" font-weight="normal" fill="#3a3a3a" style="font-family:'Liberation Serif', serif">−5.00</text>
<line x1="300.9" y1="427.6" x2="300.9" y2="430.6" stroke="#858585" stroke-width="1"/>
<line x1="300.9" y1="241.3" x2="300.9" y2="238.3" stroke="#858585" stroke-width="1"/>
<text x="300.9" y="440.9" font-size="10.3" text-anchor="middle" font-weight="normal" fill="#3a3a3a" style="font-family:'Liberation Serif', serif">0.00</text>
<line x1="382.3" y1="427.6" x2="382.3" y2="430.6" stroke="#858585" stroke-width="1"/>
<line x1="382.3" y1="241.3" x2="382.3" y2="238.3" stroke="#858585" stroke-width="1"/>
<text x="382.3" y="440.9" font-size="10.3" text-anchor="middle" font-weight="normal" fill="#3a3a3a" style="font-family:'Liberation Serif', serif">5.00</text>
<line x1="53.2" y1="427.6" x2="56.7" y2="427.6" stroke="#858585" stroke-width="1"/>
<text x="50.7" y="431.1" font-size="10.3" text-anchor="end" font-weight="normal" fill="#3a3a3a" style="font-family:'Liberation Serif', serif">0.00</text>
<line x1="53.2" y1="408.9" x2="56.7" y2="408.9" stroke="#858585" stroke-width="1"/>
<text x="50.7" y="412.4" font-size="10.3" text-anchor="end" font-weight="normal" fill="#3a3a3a" style="font-family:'Liberation Serif', serif">0.43</text>
<line x1="53.2" y1="390.2" x2="56.7" y2="390.2" stroke="#858585" stroke-width="1"/>
<text x="50.7" y="393.7" font-size="10.3" text-anchor="end" font-weight="normal" fill="#3a3a3a" style="font-family:'Liberation Serif', serif">0.86</text>
<line x1="53.2" y1="371.4" x2="56.7" y2="371.4" stroke="#858585" stroke-width="1"/>
<text x="50.7" y="374.9" font-size="10.3" text-anchor="end" font-weight="normal" fill="#3a3a3a" style="font-family:'Liberation Serif', serif">1.29</text>
<line x1="53.2" y1="352.7" x2="56.7" y2="352.7" stroke="#858585" stroke-width="1"/>
<text x="50.7" y="356.2" font-size="10.3" text-anchor="end" font-weight="normal" fill="#3a3a3a" style="font-family:'Liberation Serif', serif">1.72</text>
<line x1="53.2" y1="334" x2="56.7" y2="334" stroke="#858585" stroke-width="1"/>
<text x="50.7" y="337.5" font-size="10.3" text-anchor="end" font-weight="normal" fill="#3a3a3a" style="font-family:'Liberation Serif', serif">2.15</text>
<line x1="53.2" y1="315.3" x2="56.7" y2="315.3" stroke="#858585" stroke-width="1"/>
<text x="50.7" y="318.8" font-size="10.3" text-anchor="end" font-weight="normal" fill="#3a3a3a" style="font-family:'Liberation Serif', serif">2.58</text>
<line x1="53.2" y1="296.6" x2="56.7" y2="296.6" stroke="#858585" stroke-width="1"/>
<text x="50.7" y="300.1" font-size="10.3" text-anchor="end" font-weight="normal" fill="#3a3a3a" style="font-family:'Liberation Serif', serif">3.01</text>
<line x1="53.2" y1="277.8" x2="56.7" y2="277.8" stroke="#858585" stroke-width="1"/>
<text x="50.7" y="281.3" font-size="10.3" text-anchor="end" font-weight="normal" fill="#3a3a3a" style="font-family:'Liberation Serif', serif">3.44</text>
<line x1="53.2" y1="259.1" x2="56.7" y2="259.1" stroke="#858585" stroke-width="1"/>
<text x="50.7" y="262.6" font-size="10.3" text-anchor="end" font-weight="normal" fill="#3a3a3a" style="font-family:'Liberation Serif', serif">3.87</text>
<line x1="382.3" y1="427.6" x2="385.8" y2="427.6" stroke="#858585" stroke-width="1"/>
<line x1="382.3" y1="408.9" x2="385.8" y2="408.9" stroke="#858585" stroke-width="1"/>
<line x1="382.3" y1="390.2" x2="385.8" y2="390.2" stroke="#858585" stroke-width="1"/>
<line x1="382.3" y1="371.4" x2="385.8" y2="371.4" stroke="#858585" stroke-width="1"/>
<line x1="382.3" y1="352.7" x2="385.8" y2="352.7" stroke="#858585" stroke-width="1"/>
<line x1="382.3" y1="334" x2="385.8" y2="334" stroke="#858585" stroke-width="1"/>
<line x1="382.3" y1="315.3" x2="385.8" y2="315.3" stroke="#858585" stroke-width="1"/>
<line x1="382.3" y1="296.6" x2="385.8" y2="296.6" stroke="#858585" stroke-width="1"/>
<line x1="382.3" y1="277.8" x2="385.8" y2="277.8" stroke="#858585" stroke-width="1"/>
<line x1="382.3" y1="259.1" x2="385.8" y2="259.1" stroke="#858585" stroke-width="1"/>
<rect x="57.0" y="426.7" width="0.8" height="1.8" fill="#555"/>
<rect x="58.4" y="426.7" width="1.0" height="1.8" fill="#333"/>
<rect x="62.2" y="426.7" width="1.2" height="1.8" fill="#333"/>
<rect x="64.0" y="426.7" width="2.2" height="1.8" fill="#111"/>
<rect x="68.2" y="426.7" width="0.8" height="1.8" fill="#111"/>
<rect x="77.4" y="426.7" width="0.8" height="1.8" fill="#111"/>
<rect x="90.9" y="426.7" width="1.0" height="1.8" fill="#333"/>
<rect x="93.9" y="426.7" width="0.8" height="1.8" fill="#333"/>
<rect x="96.7" y="426.7" width="1.6" height="1.8" fill="#111"/>
<rect x="100.3" y="426.7" width="1.2" height="1.8" fill="#111"/>
<rect x="103.0" y="426.7" width="0.8" height="1.8" fill="#333"/>
<rect x="109.9" y="426.7" width="1.2" height="1.8" fill="#333"/>
<rect x="113.1" y="426.7" width="2.2" height="1.8" fill="#333"/>
<rect x="116.8" y="426.7" width="0.8" height="1.8" fill="#111"/>
<rect x="119.1" y="426.7" width="1.0" height="1.8" fill="#333"/>
<rect x="122.1" y="426.7" width="2.2" height="1.8" fill="#333"/>
<rect x="129.1" y="426.7" width="2.2" height="1.8" fill="#555"/>
<rect x="134.7" y="426.7" width="1.6" height="1.8" fill="#111"/>
<rect x="137.8" y="426.7" width="1.6" height="1.8" fill="#555"/>
<rect x="140.4" y="426.7" width="1.0" height="1.8" fill="#333"/>
<rect x="142.9" y="426.7" width="1.2" height="1.8" fill="#555"/>
<rect x="145.6" y="426.7" width="1.6" height="1.8" fill="#333"/>
<rect x="149.2" y="426.7" width="2.2" height="1.8" fill="#111"/>
<rect x="152.4" y="426.7" width="1.0" height="1.8" fill="#555"/>
<rect x="155.4" y="426.7" width="2.2" height="1.8" fill="#333"/>
<rect x="159.6" y="426.7" width="1.6" height="1.8" fill="#111"/>
<rect x="162.2" y="426.7" width="0.8" height="1.8" fill="#555"/>
<rect x="163.6" y="426.7" width="1.2" height="1.8" fill="#333"/>
<rect x="170.6" y="426.7" width="1.6" height="1.8" fill="#555"/>
<rect x="173.2" y="426.7" width="1.6" height="1.8" fill="#111"/>
<rect x="176.8" y="426.7" width="1.2" height="1.8" fill="#333"/>
<rect x="179.0" y="426.7" width="2.2" height="1.8" fill="#111"/>
<rect x="185.0" y="426.7" width="1.6" height="1.8" fill="#333"/>
<rect x="188.1" y="426.7" width="0.8" height="1.8" fill="#333"/>
<rect x="190.9" y="426.7" width="2.2" height="1.8" fill="#111"/>
<rect x="299.0" y="426.7" width="1.0" height="1.8" fill="#555"/>
<rect x="300.6" y="426.7" width="1.6" height="1.8" fill="#111"/>
<rect x="302.8" y="426.7" width="1.0" height="1.8" fill="#111"/>
<rect x="305.3" y="426.7" width="1.0" height="1.8" fill="#555"/>
<rect x="308.3" y="426.7" width="0.8" height="1.8" fill="#333"/>
<rect x="311.9" y="426.7" width="2.2" height="1.8" fill="#333"/>
<rect x="315.1" y="426.7" width="2.2" height="1.8" fill="#555"/>
<rect x="318.8" y="426.7" width="1.6" height="1.8" fill="#333"/>
<rect x="321.4" y="426.7" width="1.6" height="1.8" fill="#555"/>
<rect x="326.3" y="426.7" width="0.8" height="1.8" fill="#333"/>
<rect x="329.1" y="426.7" width="0.8" height="1.8" fill="#555"/>
<rect x="331.9" y="426.7" width="1.2" height="1.8" fill="#111"/>
<rect x="334.6" y="426.7" width="1.6" height="1.8" fill="#333"/>
<rect x="340.8" y="426.7" width="0.8" height="1.8" fill="#111"/>
<rect x="343.1" y="426.7" width="1.0" height="1.8" fill="#111"/>
<rect x="345.6" y="426.7" width="1.2" height="1.8" fill="#555"/>
<rect x="348.8" y="426.7" width="2.2" height="1.8" fill="#111"/>
<rect x="355.2" y="426.7" width="2.2" height="1.8" fill="#333"/>
<rect x="358.0" y="426.7" width="1.0" height="1.8" fill="#555"/>
<rect x="360.0" y="426.7" width="1.6" height="1.8" fill="#111"/>
<rect x="362.6" y="426.7" width="1.6" height="1.8" fill="#555"/>
<rect x="367.5" y="426.7" width="1.2" height="1.8" fill="#555"/>
<rect x="371.5" y="426.7" width="1.6" height="1.8" fill="#555"/>
<rect x="378.3" y="426.7" width="1.0" height="1.8" fill="#111"/>
<rect x="380.8" y="426.7" width="0.8" height="1.8" fill="#111"/>
<line x1="197.3" y1="270.7" x2="197.3" y2="427.6" stroke="#8a8a8a" stroke-width="1" stroke-dasharray="1.8 2.4"/>
<path d="M56.9 334.6 C57.1 334.4 57.7 332.8 58.3 333.5 C58.9 334.2 59.6 336.1 60.5 338.8 C61.4 341.5 62.5 346 63.8 349.8 C65.1 353.6 66.8 358.6 68.2 361.8 C69.6 365 70.9 369.7 72.1 369.1 C73.3 368.6 74.2 361.4 75.2 358.5 C76.2 355.6 77 352.1 78 351.5 C79 350.9 79.9 356.2 80.9 355.2 C81.9 354.2 83 348.7 84 345.4 C85 342.1 86 337.5 86.8 335.5 C87.6 333.5 88.2 332.2 89 333.3 C89.8 334.4 90.8 338.9 91.9 342.1 C93 345.3 94.4 351.5 95.6 352.6 C96.8 353.7 97.9 350.6 98.9 348.7 C99.9 346.8 100.9 344.1 101.7 341 C102.5 337.9 103.2 332.9 103.7 330 C104.2 327.1 103.7 330.3 104.4 323.4 C105.1 316.4 106.6 296.5 107.7 288.3 C108.8 280.1 110 275.1 111 274 C112 272.9 112.9 278.6 113.8 281.7 C114.7 284.8 115.4 290.2 116.4 292.7 C117.4 295.2 118.6 294.4 119.7 296.6 C120.8 298.8 121.9 302.4 123 305.8 C124.1 309.2 125.2 312.9 126.3 316.8 C127.4 320.7 128.5 323.9 129.6 329 C130.7 334.1 132 341.6 132.9 347.6 C133.8 353.6 134.4 361 135.1 365.1 C135.8 369.2 136.2 372.5 136.9 372.1 C137.6 371.7 138.3 368.1 139 362.9 C139.7 357.7 140.6 350.5 141.2 341 C141.8 331.5 141.8 317.2 142.3 305.8 C142.9 294.4 143.8 280.6 144.5 272.9 C145.2 265.1 146 260 146.7 259.3 C147.4 258.6 148.2 262.6 148.9 268.5 C149.6 274.4 150.3 285 151.1 294.9 C151.9 304.8 152.9 320.8 153.7 327.8 C154.5 334.8 155.1 336.4 155.9 337 C156.7 337.6 157.4 333.3 158.3 331.5 C159.2 329.7 160.4 325.9 161.4 326 C162.4 326.1 163.5 330.3 164.3 332.2 C165.1 334.1 165.4 335.3 166.2 337.5 C167 339.7 167.9 342.4 169.1 345.4 C170.3 348.3 172.2 352.1 173.5 355.2 C174.8 358.3 175.8 364.2 176.8 364 C177.8 363.8 178.7 357.4 179.6 354.1 C180.5 350.8 181.6 346.2 182.3 344.3 C183 342.4 183.3 342.1 184 342.7 C184.7 343.2 185.4 343.5 186.2 347.6 C187 351.7 187.9 361.6 188.9 367.3 C189.9 373 191.1 377.2 192.2 381.6 C193.3 386 194.5 389.4 195.4 393.6 C196.3 397.8 196.9 402.8 197.6 406.8 C198.3 410.8 199 414.8 199.8 417.8 C200.6 420.8 201.4 423.2 202.5 424.8 C203.6 426.4 205.8 427.1 206.4 427.6" fill="none" stroke="#6e6e6e" stroke-width="1" stroke-linejoin="round"/>
<line x1="206.4" y1="427.6" x2="287.9" y2="427.6" stroke="#6e6e6e" stroke-width="1"/>
<path d="M287.9 427.6 C288.3 427.2 289.4 427.1 290.1 425.5 C290.8 423.9 291.7 421.7 292.3 417.8 C292.9 413.9 293.4 408.6 294 402.4 C294.6 396.2 295.4 388.2 296 380.5 C296.6 372.8 297.2 364 297.8 356.3 C298.4 348.6 298.9 339.9 299.5 334.4 C300.1 328.9 300.5 326 301.1 323.4 C301.7 320.8 302.6 318 303.3 318.6 C304 319.2 304.8 322.9 305.5 327 C306.2 331.1 307 337.9 307.7 343.2 C308.4 348.4 309.1 355 309.8 358.5 C310.5 362 311.1 363.3 312 364 C312.9 364.7 314.2 364.5 315.3 362.9 C316.4 361.2 317.5 358.5 318.6 354.1 C319.7 349.7 321.2 342.8 321.9 336.6 C322.6 330.4 322.3 325.6 323 316.8 C323.7 308 325.1 292.1 326.3 283.9 C327.5 275.7 328.9 268.9 330 267.4 C331.1 265.9 331.9 268.7 332.9 275.1 C333.9 281.5 335.1 295.9 336.2 305.8 C337.3 315.7 338.6 330.4 339.5 334.4 C340.4 338.4 340.9 331.8 341.7 330 C342.5 328.2 343.4 324.3 344.3 323.4 C345.2 322.5 346.2 325.8 347.2 324.5 C348.2 323.2 349.4 317.8 350.4 315.7 C351.4 313.6 352.2 311.4 353.1 312 C354 312.6 354.9 315.1 355.9 319 C356.9 322.9 357.9 331.9 359.2 335.5 C360.5 339.1 362.3 338.9 363.6 340.5 C364.9 342.1 365.7 343.9 366.9 345.4 C368.1 346.9 369.3 349.3 370.6 349.3 C371.9 349.3 373.4 347.5 374.6 345.4 C375.8 343.3 377 339.8 377.9 336.6 C378.8 333.4 379.4 330.6 380.1 326 C380.8 321.4 381.7 311.9 382 309.1" fill="none" stroke="#6e6e6e" stroke-width="1" stroke-linejoin="round"/>
<text x="166.4" y="260.7" font-size="12.1" text-anchor="start" font-weight="bold" fill="#111" textLength="58.4" lengthAdjust="spacingAndGlyphs">BNNT(7,7)</text>
<text x="204.7" y="453.5" font-size="9.5" text-anchor="start" font-weight="bold" fill="#222" textLength="22.6" lengthAdjust="spacingAndGlyphs" stroke="#222" stroke-width="0.25">E(eV)</text>
<text x="0" y="0" font-size="10.5" text-anchor="middle" font-weight="bold" fill="#111" textLength="18.7" lengthAdjust="spacingAndGlyphs" transform="translate(11,335.3) rotate(-90)">DOS</text>
<text x="0" y="0" font-size="10.5" text-anchor="middle" font-weight="normal" fill="#555" textLength="89.6" lengthAdjust="spacingAndGlyphs" style="font-family:'Liberation Serif', serif" transform="translate(27.6,334.7) rotate(-90)">Density-of-states</text>
<line x1="445.7" y1="238.4" x2="445.7" y2="430.6" stroke="#858585" stroke-width="1"/>
<line x1="751.4" y1="238.4" x2="751.4" y2="430.6" stroke="#858585" stroke-width="1"/>
<line x1="445.7" y1="241.4" x2="751.4" y2="241.4" stroke="#858585" stroke-width="1"/>
<line x1="445.7" y1="427.6" x2="751.4" y2="427.6" stroke="#858585" stroke-width="1"/>
<line x1="445.7" y1="427.6" x2="445.7" y2="430.6" stroke="#858585" stroke-width="1"/>
<line x1="445.7" y1="241.4" x2="445.7" y2="238.4" stroke="#858585" stroke-width="1"/>
<text x="445.7" y="440.8" font-size="10.3" text-anchor="middle" font-weight="normal" fill="#3a3a3a" style="font-family:'Liberation Serif', serif">−15.00</text>
<line x1="522.1" y1="427.6" x2="522.1" y2="430.6" stroke="#858585" stroke-width="1"/>
<line x1="522.1" y1="241.4" x2="522.1" y2="238.4" stroke="#858585" stroke-width="1"/>
<text x="522.1" y="440.8" font-size="10.3" text-anchor="middle" font-weight="normal" fill="#3a3a3a" style="font-family:'Liberation Serif', serif">−10.00</text>
<line x1="598.5" y1="427.6" x2="598.5" y2="430.6" stroke="#858585" stroke-width="1"/>
<line x1="598.5" y1="241.4" x2="598.5" y2="238.4" stroke="#858585" stroke-width="1"/>
<text x="598.5" y="440.8" font-size="10.3" text-anchor="middle" font-weight="normal" fill="#3a3a3a" style="font-family:'Liberation Serif', serif">−5.00</text>
<line x1="675" y1="427.6" x2="675" y2="430.6" stroke="#858585" stroke-width="1"/>
<line x1="675" y1="241.4" x2="675" y2="238.4" stroke="#858585" stroke-width="1"/>
<text x="675" y="440.8" font-size="10.3" text-anchor="middle" font-weight="normal" fill="#3a3a3a" style="font-family:'Liberation Serif', serif">0.00</text>
<line x1="751.4" y1="427.6" x2="751.4" y2="430.6" stroke="#858585" stroke-width="1"/>
<line x1="751.4" y1="241.4" x2="751.4" y2="238.4" stroke="#858585" stroke-width="1"/>
<text x="751.4" y="440.8" font-size="10.3" text-anchor="middle" font-weight="normal" fill="#3a3a3a" style="font-family:'Liberation Serif', serif">5.00</text>
<line x1="442.2" y1="241.6" x2="445.7" y2="241.6" stroke="#858585" stroke-width="1"/>
<text x="440.3" y="245.1" font-size="10.3" text-anchor="end" font-weight="normal" fill="#3a3a3a" style="font-family:'Liberation Serif', serif">4.26</text>
<line x1="442.2" y1="260.2" x2="445.7" y2="260.2" stroke="#858585" stroke-width="1"/>
<text x="440.3" y="263.7" font-size="10.3" text-anchor="end" font-weight="normal" fill="#3a3a3a" style="font-family:'Liberation Serif', serif">3.62</text>
<line x1="442.2" y1="278.8" x2="445.7" y2="278.8" stroke="#858585" stroke-width="1"/>
<text x="440.3" y="282.3" font-size="10.3" text-anchor="end" font-weight="normal" fill="#3a3a3a" style="font-family:'Liberation Serif', serif">2.98</text>
<line x1="442.2" y1="297.4" x2="445.7" y2="297.4" stroke="#858585" stroke-width="1"/>
<text x="440.3" y="300.9" font-size="10.3" text-anchor="end" font-weight="normal" fill="#3a3a3a" style="font-family:'Liberation Serif', serif">2.34</text>
<line x1="442.2" y1="316" x2="445.7" y2="316" stroke="#858585" stroke-width="1"/>
<text x="440.3" y="319.5" font-size="10.3" text-anchor="end" font-weight="normal" fill="#3a3a3a" style="font-family:'Liberation Serif', serif">1.70</text>
<line x1="442.2" y1="334.6" x2="445.7" y2="334.6" stroke="#858585" stroke-width="1"/>
<text x="440.3" y="338.1" font-size="10.3" text-anchor="end" font-weight="normal" fill="#3a3a3a" style="font-family:'Liberation Serif', serif">1.06</text>
<line x1="442.2" y1="353.2" x2="445.7" y2="353.2" stroke="#858585" stroke-width="1"/>
<text x="440.3" y="356.7" font-size="10.3" text-anchor="end" font-weight="normal" fill="#3a3a3a" style="font-family:'Liberation Serif', serif">0.42</text>
<line x1="442.2" y1="371.8" x2="445.7" y2="371.8" stroke="#858585" stroke-width="1"/>
<text x="440.3" y="375.3" font-size="10.3" text-anchor="end" font-weight="normal" fill="#3a3a3a" style="font-family:'Liberation Serif', serif">−0.22</text>
<line x1="442.2" y1="390.4" x2="445.7" y2="390.4" stroke="#858585" stroke-width="1"/>
<text x="440.3" y="393.9" font-size="10.3" text-anchor="end" font-weight="normal" fill="#3a3a3a" style="font-family:'Liberation Serif', serif">−0.86</text>
<line x1="442.2" y1="409" x2="445.7" y2="409" stroke="#858585" stroke-width="1"/>
<text x="440.3" y="412.5" font-size="10.3" text-anchor="end" font-weight="normal" fill="#3a3a3a" style="font-family:'Liberation Serif', serif">−1.50</text>
<line x1="442.2" y1="427.6" x2="445.7" y2="427.6" stroke="#858585" stroke-width="1"/>
<text x="440.3" y="431.1" font-size="10.3" text-anchor="end" font-weight="normal" fill="#3a3a3a" style="font-family:'Liberation Serif', serif">−2.14</text>
<line x1="751.4" y1="241.6" x2="754.9" y2="241.6" stroke="#858585" stroke-width="1"/>
<text x="781" y="245.1" font-size="10.3" text-anchor="end" font-weight="normal" fill="#3a3a3a" style="font-family:'Liberation Serif', serif">2.14</text>
<line x1="751.4" y1="260.2" x2="754.9" y2="260.2" stroke="#858585" stroke-width="1"/>
<text x="781" y="263.7" font-size="10.3" text-anchor="end" font-weight="normal" fill="#3a3a3a" style="font-family:'Liberation Serif', serif">1.82</text>
<line x1="751.4" y1="278.8" x2="754.9" y2="278.8" stroke="#858585" stroke-width="1"/>
<text x="781" y="282.3" font-size="10.3" text-anchor="end" font-weight="normal" fill="#3a3a3a" style="font-family:'Liberation Serif', serif">1.50</text>
<line x1="751.4" y1="297.4" x2="754.9" y2="297.4" stroke="#858585" stroke-width="1"/>
<text x="781" y="300.9" font-size="10.3" text-anchor="end" font-weight="normal" fill="#3a3a3a" style="font-family:'Liberation Serif', serif">1.18</text>
<line x1="751.4" y1="316" x2="754.9" y2="316" stroke="#858585" stroke-width="1"/>
<text x="781" y="319.5" font-size="10.3" text-anchor="end" font-weight="normal" fill="#3a3a3a" style="font-family:'Liberation Serif', serif">0.86</text>
<line x1="751.4" y1="334.6" x2="754.9" y2="334.6" stroke="#858585" stroke-width="1"/>
<text x="781" y="338.1" font-size="10.3" text-anchor="end" font-weight="normal" fill="#3a3a3a" style="font-family:'Liberation Serif', serif">0.53</text>
<line x1="751.4" y1="353.2" x2="754.9" y2="353.2" stroke="#858585" stroke-width="1"/>
<text x="781" y="356.7" font-size="10.3" text-anchor="end" font-weight="normal" fill="#3a3a3a" style="font-family:'Liberation Serif', serif">0.21</text>
<line x1="751.4" y1="371.8" x2="754.9" y2="371.8" stroke="#858585" stroke-width="1"/>
<text x="781" y="375.3" font-size="10.3" text-anchor="end" font-weight="normal" fill="#3a3a3a" style="font-family:'Liberation Serif', serif">−0.11</text>
<line x1="751.4" y1="390.4" x2="754.9" y2="390.4" stroke="#858585" stroke-width="1"/>
<text x="781" y="393.9" font-size="10.3" text-anchor="end" font-weight="normal" fill="#3a3a3a" style="font-family:'Liberation Serif', serif">−0.43</text>
<line x1="751.4" y1="409" x2="754.9" y2="409" stroke="#858585" stroke-width="1"/>
<text x="781" y="412.5" font-size="10.3" text-anchor="end" font-weight="normal" fill="#3a3a3a" style="font-family:'Liberation Serif', serif">−0.75</text>
<line x1="751.4" y1="427.6" x2="754.9" y2="427.6" stroke="#858585" stroke-width="1"/>
<text x="781" y="431.1" font-size="10.3" text-anchor="end" font-weight="normal" fill="#3a3a3a" style="font-family:'Liberation Serif', serif">−1.07</text>
<line x1="445.7" y1="365.2" x2="751.4" y2="365.2" stroke="#555" stroke-width="1"/>
<line x1="577.5" y1="263.5" x2="577.5" y2="427.6" stroke="#8a8a8a" stroke-width="1" stroke-dasharray="1.8 2.4"/>
<path d="M539 366.2 C540 366.2 541.5 366.3 545 366.4 C548.5 366.4 555 366.5 560 366.5 C565 366.5 571.5 366.5 575 366.4 C578.5 366.3 580 366.2 581 366.1" fill="none" stroke="#74e064" stroke-width="1" stroke-linejoin="round"/>
<path d="M496 366.2 C498 366.2 506 366.3 508 366.3" fill="none" stroke="#74e064" stroke-width="1" stroke-linejoin="round"/>
<rect x="446.0" y="364.3" width="1.0" height="1.7" fill="#802838"/>
<rect x="449.0" y="364.3" width="0.8" height="1.7" fill="#6a3a70"/>
<rect x="450.8" y="364.3" width="1.2" height="1.7" fill="#6a3a70"/>
<rect x="453.0" y="364.3" width="1.2" height="1.7" fill="#6a3a70"/>
<rect x="454.8" y="364.3" width="1.6" height="1.7" fill="#555"/>
<rect x="457.0" y="364.3" width="1.6" height="1.7" fill="#c03040"/>
<rect x="459.2" y="364.3" width="1.2" height="1.7" fill="#c03040"/>
<rect x="463.2" y="364.3" width="1.2" height="1.7" fill="#d04050"/>
<rect x="467.2" y="364.3" width="0.8" height="1.7" fill="#d04050"/>
<rect x="469.5" y="364.3" width="1.2" height="1.7" fill="#c03040"/>
<rect x="471.3" y="364.3" width="1.0" height="1.7" fill="#6a3a70"/>
<rect x="479.5" y="364.3" width="0.8" height="1.7" fill="#802838"/>
<rect x="481.3" y="364.3" width="2.2" height="1.7" fill="#d04050"/>
<rect x="485.5" y="364.3" width="1.2" height="1.7" fill="#c03040"/>
<rect x="489.5" y="364.3" width="1.0" height="1.7" fill="#703060"/>
<rect x="491.5" y="364.3" width="1.6" height="1.7" fill="#a02838"/>
<rect x="495.1" y="364.3" width="2.2" height="1.7" fill="#703060"/>
<rect x="501.6" y="364.3" width="2.2" height="1.7" fill="#c03040"/>
<rect x="509.4" y="364.3" width="1.0" height="1.7" fill="#555"/>
<rect x="512.4" y="364.3" width="2.2" height="1.7" fill="#504080"/>
<rect x="517.4" y="364.3" width="0.8" height="1.7" fill="#802838"/>
<rect x="519.7" y="364.3" width="1.2" height="1.7" fill="#d04050"/>
<rect x="522.4" y="364.3" width="1.2" height="1.7" fill="#504080"/>
<rect x="524.6" y="364.3" width="1.0" height="1.7" fill="#802838"/>
<rect x="528.4" y="364.3" width="1.0" height="1.7" fill="#555"/>
<rect x="530.9" y="364.3" width="1.0" height="1.7" fill="#504080"/>
<rect x="534.7" y="364.3" width="0.8" height="1.7" fill="#504080"/>
<rect x="537.5" y="364.3" width="1.2" height="1.7" fill="#802838"/>
<rect x="539.7" y="364.3" width="0.8" height="1.7" fill="#504080"/>
<rect x="541.1" y="364.3" width="1.2" height="1.7" fill="#703060"/>
<rect x="544.3" y="364.3" width="2.2" height="1.7" fill="#a02838"/>
<rect x="547.1" y="364.3" width="2.2" height="1.7" fill="#d04050"/>
<rect x="550.3" y="364.3" width="0.8" height="1.7" fill="#703060"/>
<rect x="553.3" y="364.3" width="2.2" height="1.7" fill="#504080"/>
<rect x="556.1" y="364.3" width="1.2" height="1.7" fill="#d04050"/>
<rect x="558.3" y="364.3" width="2.2" height="1.7" fill="#504080"/>
<rect x="561.1" y="364.3" width="1.6" height="1.7" fill="#c03040"/>
<rect x="564.7" y="364.3" width="0.8" height="1.7" fill="#703060"/>
<rect x="568.3" y="364.3" width="0.8" height="1.7" fill="#555"/>
<rect x="576.8" y="364.3" width="2.2" height="1.7" fill="#555"/>
<rect x="669.0" y="364.3" width="0.8" height="1.7" fill="#d04050"/>
<rect x="670.8" y="364.3" width="1.6" height="1.7" fill="#504080"/>
<rect x="676.6" y="364.3" width="0.8" height="1.7" fill="#555"/>
<rect x="680.2" y="364.3" width="1.2" height="1.7" fill="#703060"/>
<rect x="682.4" y="364.3" width="0.8" height="1.7" fill="#703060"/>
<rect x="685.2" y="364.3" width="0.8" height="1.7" fill="#d04050"/>
<rect x="688.8" y="364.3" width="1.0" height="1.7" fill="#802838"/>
<rect x="690.8" y="364.3" width="2.2" height="1.7" fill="#c03040"/>
<rect x="693.6" y="364.3" width="1.6" height="1.7" fill="#504080"/>
<rect x="696.7" y="364.3" width="1.0" height="1.7" fill="#a02838"/>
<rect x="699.7" y="364.3" width="1.2" height="1.7" fill="#555"/>
<rect x="701.5" y="364.3" width="2.2" height="1.7" fill="#703060"/>
<rect x="704.7" y="364.3" width="2.2" height="1.7" fill="#504080"/>
<rect x="708.9" y="364.3" width="1.0" height="1.7" fill="#a02838"/>
<rect x="711.9" y="364.3" width="2.2" height="1.7" fill="#d04050"/>
<rect x="714.7" y="364.3" width="1.0" height="1.7" fill="#504080"/>
<rect x="716.3" y="364.3" width="2.2" height="1.7" fill="#a02838"/>
<rect x="720.0" y="364.3" width="0.8" height="1.7" fill="#6a3a70"/>
<rect x="723.6" y="364.3" width="1.2" height="1.7" fill="#802838"/>
<rect x="727.6" y="364.3" width="1.0" height="1.7" fill="#d04050"/>
<rect x="730.6" y="364.3" width="2.2" height="1.7" fill="#a02838"/>
<rect x="737.6" y="364.3" width="1.0" height="1.7" fill="#6a3a70"/>
<rect x="739.6" y="364.3" width="1.6" height="1.7" fill="#c03040"/>
<rect x="742.2" y="364.3" width="1.2" height="1.7" fill="#c03040"/>
<rect x="745.4" y="364.3" width="2.2" height="1.7" fill="#a02838"/>
<rect x="748.2" y="364.3" width="1.0" height="1.7" fill="#d04050"/>
<path d="M446.2 360.7 C446.9 360.3 449.1 358.6 450.6 358.5 C452.1 358.4 453.2 359.2 455 360.1 C456.8 361 459.8 363.8 461.6 364 C463.4 364.2 464.4 361.8 465.9 361.2 C467.3 360.6 468.8 361.3 470.3 360.1 C471.8 358.9 473.2 355.9 474.7 354.1 C476.2 352.3 477.7 349.1 479.1 349.3 C480.5 349.5 481.6 353.1 483.1 355.2 C484.6 357.3 486.2 361.8 487.9 361.8 C489.6 361.8 491.4 357.4 493.4 355.2 C495.4 353 498 349.1 500 348.7 C502 348.3 503.6 351 505.4 353 C507.2 355 509.1 359 510.9 360.7 C512.7 362.4 514.8 362.9 516.4 363.4 C518 363.8 519.3 364.6 520.8 363.4 C522.3 362.2 523.9 359.1 525.2 356.3 C526.5 353.5 527.6 348.5 528.5 346.5 C529.4 344.5 529.9 343.6 530.7 344.3 C531.5 345 532.4 348.4 533.5 350.8 C534.6 353.2 535.8 357.1 537.3 358.5 C538.8 359.9 541.1 359.5 542.7 359.2 C544.3 358.9 545.8 357.4 547.1 356.8 C548.4 356.2 549.3 355.4 550.4 355.9 C551.5 356.4 552.4 358.2 553.7 359.6 C555 361 556.7 363.6 558.1 364.5 C559.5 365.4 561.4 365.1 562 365.2" fill="none" stroke="#5a6cf4" stroke-width="1" stroke-linejoin="round"/>
<path d="M669.1 365.2 C669.8 364.6 672.2 362.6 673.5 361.8 C674.8 361 675.7 360.4 676.8 360.3 C677.9 360.2 678.8 361.6 680.1 361.4 C681.4 361.2 683 359.5 684.5 359 C686 358.5 687.2 359.4 688.9 358.5 C690.5 357.6 692.4 355.1 694.4 353.7 C696.4 352.3 699.1 350.1 700.9 350.2 C702.7 350.3 703.8 353.3 705.3 354.1 C706.8 354.9 707.9 355.4 709.7 355.2 C711.5 355 714.1 353.6 716.3 353 C718.5 352.4 721.1 351.2 722.9 351.3 C724.7 351.4 725.9 352.9 727.3 353.7 C728.7 354.5 729.9 356.4 731.2 356.3 C732.5 356.2 733.7 354 735 353 C736.3 352 737.6 350.2 738.9 350.2 C740.2 350.2 741.2 352.5 742.6 353 C744 353.5 745.6 353.2 747 353 C748.4 352.8 750.5 352.1 751.2 351.9" fill="none" stroke="#5a6cf4" stroke-width="1" stroke-linejoin="round"/>
<path d="M669.1 365.5 C669.6 365.8 671.1 366.8 672.4 367.3 C673.7 367.8 675.3 368.1 676.8 368.4 C678.3 368.7 679.7 368.9 681.2 369.1 C682.7 369.3 684.1 369.7 685.6 369.5 C687.1 369.3 688.2 368.1 690 367.7 C691.8 367.3 694.4 367.2 696.6 367.3 C698.8 367.4 700.9 368 703.1 368.4 C705.3 368.8 707.5 369.6 709.7 369.5 C711.9 369.4 714.1 368.4 716.3 368 C718.5 367.6 720.7 367.4 722.9 367.3 C725.1 367.2 727.7 367.3 729.5 367.7 C731.3 368.1 732.4 369 733.9 369.9 C735.4 370.8 736.4 372.1 738.2 372.8 C740 373.5 742.6 373.7 744.8 373.9 C747 374.1 750.1 373.9 751.2 373.9" fill="none" stroke="#74e064" stroke-width="1" stroke-linejoin="round"/>
<path d="M446 302.8 C446.3 302.9 447.1 302 447.8 303.2 C448.5 304.4 449.4 307.8 450.3 310.2 C451.2 312.6 452.4 315.5 453.5 317.7 C454.6 319.9 455.6 321.9 456.6 323.4 C457.7 324.9 458.9 326.7 459.8 326.6 C460.8 326.5 461.5 324.5 462.3 322.8 C463.1 321.1 464.1 317.9 464.8 316.5 C465.5 315.1 466.1 314.2 466.7 314.2 C467.3 314.2 468 316 468.6 316.5 C469.2 317 469.8 318.1 470.5 317.1 C471.2 316.2 472.2 313.2 473 310.8 C473.8 308.4 474.7 303.7 475.5 302.9 C476.3 302.1 477.1 304.2 478 305.8 C478.9 307.4 479.8 311 480.6 312.7 C481.5 314.4 482.3 315.7 483.1 315.9 C483.9 316.1 484.8 315.1 485.6 314 C486.4 312.9 487.4 311.4 488.1 309.5 C488.8 307.6 489.3 307.1 490 302.6 C490.7 298.2 491.8 288.4 492.5 282.8 C493.2 277.2 493.8 272.2 494.4 269 C495 265.8 495.7 263.6 496.3 263.3 C496.9 263 497.6 265.3 498.2 267.1 C498.8 268.9 499.5 272.5 500.1 274 C500.7 275.5 501.3 275.6 502 276.3 C502.7 277 503.8 277.3 504.5 278 C505.2 278.7 505.8 279.1 506.4 280.3 C507 281.5 507.6 283.4 508.3 285.4 C509 287.4 510.1 290.4 510.8 292.3 C511.5 294.2 512.1 295 512.7 296.7 C513.3 298.4 513.9 299.9 514.6 302.6 C515.3 305.3 516.2 309.1 517.1 312.7 C518 316.3 519 321.4 519.7 324 C520.4 326.6 520.6 329.1 521.2 328.5 C521.8 327.9 522.5 324.6 523.2 320.3 C523.9 316 524.6 311 525.3 302.6 C526 294.2 526.7 277.6 527.2 270.2 C527.8 262.8 528.2 261.5 528.6 258.5 C529 255.5 529.4 253.4 529.6 252.4" fill="none" stroke="#6e6e6e" stroke-width="1" stroke-linejoin="round"/>
<path d="M532.2 261.2 C532.3 262.1 532.7 264.7 533 266.5 C533.3 268.3 533.4 268.6 533.8 272 C534.2 275.4 535 282.4 535.4 286.6 C535.8 290.8 535.6 293.8 536.1 297 C536.6 300.2 537.5 304.9 538.2 305.7 C538.9 306.5 539.7 303.1 540.5 301.7 C541.3 300.3 542.3 297.4 543.2 297.1 C544.1 296.8 544.8 298.1 545.8 299.7 C546.8 301.3 547.9 304.7 549.1 307 C550.3 309.3 551.8 311.3 553 313.6 C554.2 315.9 555.4 319.2 556.3 320.8 C557.2 322.4 557.5 323.8 558.3 323.4 C559.1 323 560.1 320.2 560.9 318.2 C561.7 316.2 562.2 313.2 562.9 311.6 C563.6 310.1 564.1 308.7 564.9 308.9 C565.7 309.1 566.7 310.5 567.5 312.9 C568.3 315.3 568.7 320.1 569.5 323.4 C570.3 326.7 571.2 330 572.1 332.6 C573 335.2 573.9 337.1 574.7 339.2 C575.5 341.3 576.1 342.7 576.8 345.4 C577.5 348.1 578.2 352.3 579 355.2 C579.8 358.1 580.7 361.2 581.8 362.9 C582.9 364.6 584.9 364.8 585.5 365.2" fill="none" stroke="#6e6e6e" stroke-width="1" stroke-linejoin="round"/>
<path d="M446 307 C446.3 307.3 447.1 307.4 447.8 308.9 C448.5 310.4 449.4 313.5 450.3 315.9 C451.2 318.3 452.4 321.4 453.5 323.4 C454.6 325.4 455.7 326.8 456.6 327.8 C457.5 328.8 458.2 329.6 459.1 329.3 C460 329 460.8 327.5 461.7 325.9 C462.6 324.3 464 320.9 464.8 319.6 C465.6 318.4 466 318.1 466.7 318.4 C467.4 318.7 468.6 320.8 469.2 321.5 C469.8 322.2 470 323.3 470.5 322.5 C471 321.7 471.7 318.2 472.4 316.5 C473.1 314.8 474.1 311.9 474.9 312.1 C475.7 312.3 476.7 315.5 477.4 317.7 C478.1 319.9 478.7 323.4 479.3 325.3 C479.9 327.2 480.5 329 481.2 328.8 C481.9 328.6 482.8 326.3 483.7 324 C484.6 321.7 485.9 318.3 486.9 315.2 C487.8 312.1 488.5 309.7 489.4 305.1 C490.3 300.6 491.7 292.2 492.5 287.9 C493.3 283.5 493.9 281 494.4 279 C494.9 277 495.2 275.9 495.7 275.9 C496.2 275.9 497 277.2 497.6 279 C498.2 280.8 498.8 284.3 499.5 286.6 C500.2 288.9 501.2 291.9 502 292.9 C502.8 293.8 503.6 292.2 504.5 292.3 C505.4 292.4 506.2 293 507.1 293.5 C508 294 508.7 294.6 509.6 295.4 C510.5 296.2 511.5 296.7 512.4 298.3 C513.3 299.9 514.3 302.3 515.2 305.1 C516.1 307.9 517 311.8 517.8 315.2 C518.5 318.6 519.1 322.7 519.7 325.3 C520.3 327.9 520.7 330.6 521.2 330.6 C521.7 330.6 522.2 328.9 522.8 325.3 C523.4 321.7 524.1 314.8 524.7 308.9 C525.3 303 526.1 294.5 526.6 290 C527.1 285.5 527.3 284.4 527.7 282 C528.1 279.6 528.7 276.6 529.1 275.3 C529.5 274 529.7 273.6 530.1 274 C530.5 274.4 531 275.3 531.6 277.8 C532.2 280.3 532.8 284.4 533.5 289.1 C534.2 293.9 535 302.5 535.9 306.3 C536.8 310.1 537.7 312 538.6 312.2 C539.5 312.4 540.4 308.9 541.2 307.6 C542 306.3 542.4 304.1 543.2 304.3 C544 304.5 544.9 306.7 545.8 308.9 C546.7 311.1 547.5 315.5 548.4 317.5 C549.3 319.5 550.1 320.1 551.1 320.8 C552.1 321.5 553.1 321.1 554.3 321.8 C555.5 322.5 557.2 325.6 558.3 325 C559.4 324.4 560.1 320.4 560.9 318.2 C561.7 316 562.2 313.2 562.9 311.6 C563.6 310.1 564.1 308.7 564.9 308.9 C565.7 309.1 566.7 310.5 567.5 312.9 C568.3 315.3 568.7 320.1 569.5 323.4 C570.3 326.7 571.2 330 572.1 332.6 C573 335.2 573.9 337.1 574.7 339.2 C575.5 341.3 576.1 342.7 576.8 345.4 C577.5 348.1 578.2 352.3 579 355.2 C579.8 358.1 580.7 361.2 581.8 362.9 C582.9 364.6 584.9 364.8 585.5 365.2" fill="none" stroke="#f25454" stroke-width="1" stroke-linejoin="round"/>
<path d="M670.2 335 C670.7 330.2 672.3 312.8 673.2 306.1 C674.1 299.4 674.8 297 675.4 294.7 C676 292.4 676.4 292.1 677 292.5 C677.6 292.9 678.2 294.2 678.9 297.4 C679.6 300.5 680.4 307.3 681.4 311.4 C682.4 315.5 683.6 319.9 684.6 321.9 C685.6 323.9 686.2 323.6 687.2 323.3 C688.2 323 689.5 323.1 690.7 320.2 C691.9 317.3 693 312.8 694.2 306.1 C695.4 299.4 696.7 286.8 697.7 279.8 C698.7 272.8 699.7 267.5 700.4 264 C701.1 260.5 701.4 258.5 702.1 258.8 C702.8 259.1 703.8 261.4 704.7 265.8 C705.6 270.2 706.4 279 707.4 285.1 C708.4 291.2 709.9 300.4 710.9 302.6 C711.9 304.8 712.7 299.3 713.5 298.2 C714.3 297.1 714.9 296.1 715.8 296 C716.7 295.9 717.9 298 718.8 297.4 C719.7 296.8 720.2 293.6 721.1 292.1 C722 290.6 723.1 287.9 724 288.2 C724.9 288.5 725.8 291.3 726.7 293.9 C727.6 296.4 728.3 301.3 729.3 303.5 C730.3 305.7 731.6 305.8 732.8 307 C734 308.2 735.1 309.5 736.3 310.5 C737.5 311.5 738.5 313.2 739.8 313.2 C741.1 313.2 742.9 312.3 744.2 310.5 C745.5 308.7 746.5 306.4 747.7 302.6 C748.9 298.8 750.6 290.2 751.2 287.7" fill="none" stroke="#6e6e6e" stroke-width="1" stroke-linejoin="round"/>
<path d="M662.5 365.2 C663 364.4 664.8 363.6 665.8 360.7 C666.8 357.8 667.8 352 668.5 347.6 C669.2 343.2 669.7 339 670.2 334.4 C670.7 329.8 671.1 324.1 671.6 320 C672.1 315.9 672.6 313.1 673.2 309.6 C673.8 306.1 674.8 301.1 675.4 299.1 C676 297.1 676.1 297.1 676.8 297.7 C677.4 298.3 678.4 299.4 679.3 302.6 C680.1 305.8 681 312.9 681.9 316.7 C682.8 320.5 683.7 323.3 684.6 325.4 C685.5 327.4 686.2 328.9 687.2 329 C688.2 329.1 689.5 328.9 690.7 326.3 C691.9 323.7 693 319.5 694.2 313.2 C695.4 306.9 696.7 294.8 697.7 288.6 C698.7 282.5 699.7 278.9 700.4 276.3 C701.1 273.7 701.4 272.6 702.1 273.2 C702.8 273.8 703.8 275.8 704.7 279.8 C705.6 283.8 706.3 291.7 707.4 297.4 C708.5 303.1 710.2 311.8 711.2 314 C712.2 316.2 712.7 311.5 713.5 310.5 C714.3 309.5 714.9 307.9 715.8 307.9 C716.7 307.9 717.9 310.8 718.8 310.5 C719.7 310.2 720.5 307.4 721.4 306.1 C722.3 304.8 723.1 302.3 724 302.6 C724.9 302.9 725.7 305.8 726.7 307.9 C727.7 309.9 729 313.1 730.2 314.9 C731.4 316.6 732.5 316.6 733.7 318.4 C734.9 320.1 736.2 323.8 737.2 325.4 C738.2 327 738.8 328.1 739.8 328.1 C740.8 328.1 742 327.6 743.3 325.4 C744.6 323.2 746.4 319 747.7 314.9 C749 310.8 750.6 303.2 751.2 300.9" fill="none" stroke="#f25454" stroke-width="1" stroke-linejoin="round"/>
<text x="541.7" y="256.9" font-size="12" text-anchor="start" font-weight="bold" fill="#111" textLength="89.7" lengthAdjust="spacingAndGlyphs">BNNT(7,7)/ADA</text>
<text x="590.9" y="453.9" font-size="9.5" text-anchor="start" font-weight="bold" fill="#222" textLength="22.1" lengthAdjust="spacingAndGlyphs" stroke="#222" stroke-width="0.25">E(eV)</text>
<text x="0" y="0" font-size="10.5" text-anchor="middle" font-weight="bold" fill="#111" textLength="17.8" lengthAdjust="spacingAndGlyphs" transform="translate(403.6,340) rotate(-90)">DOS</text>
<text x="0" y="0" font-size="10.5" text-anchor="middle" font-weight="normal" fill="#444" textLength="30.3" lengthAdjust="spacingAndGlyphs" style="font-family:'Liberation Serif', serif" transform="translate(786.5,334.9) rotate(90)">OPDOS</text>
<line x1="634.2" y1="376.8" x2="646.8" y2="376.8" stroke="#111" stroke-width="1.6"/>
<text x="654.1" y="379.9" font-size="8.6" text-anchor="start" font-weight="bold" fill="#1a1a1a" textLength="19.3" lengthAdjust="spacingAndGlyphs" stroke="#1a1a1a" stroke-width="0.3">TDOS</text>
<line x1="634.2" y1="390.4" x2="646.8" y2="390.4" stroke="#ee3040" stroke-width="1.6"/>
<text x="654.1" y="393.7" font-size="8.6" text-anchor="start" font-weight="bold" fill="#1a1a1a" textLength="53" lengthAdjust="spacingAndGlyphs" stroke="#1a1a1a" stroke-width="0.3">PDOS(BN(7,7))</text>
<line x1="634.2" y1="406.4" x2="646.8" y2="406.4" stroke="#3c7cd6" stroke-width="1.6"/>
<text x="654.1" y="409.5" font-size="8.6" text-anchor="start" font-weight="bold" fill="#1a1a1a" textLength="41" lengthAdjust="spacingAndGlyphs" stroke="#1a1a1a" stroke-width="0.3">PDOS(ADA)</text>
<line x1="634.2" y1="422.6" x2="646.8" y2="422.6" stroke="#86cf50" stroke-width="1.6"/>
<text x="654.1" y="425.3" font-size="8.6" text-anchor="start" font-weight="bold" fill="#1a1a1a" textLength="25.9" lengthAdjust="spacingAndGlyphs" stroke="#1a1a1a" stroke-width="0.3">OPDOS</text>
</svg></body></html>
